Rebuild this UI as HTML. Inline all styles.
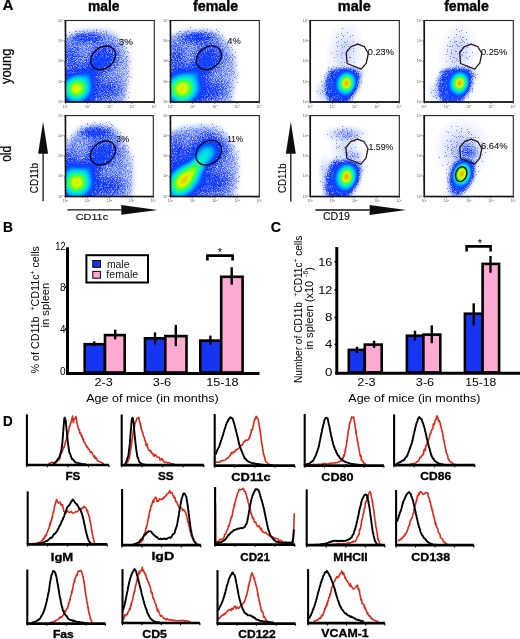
<!DOCTYPE html>
<html><head><meta charset="utf-8"><style>
html,body{margin:0;padding:0;background:#fff;}
svg{display:block;will-change:transform;}
text{font-family:"Liberation Sans", sans-serif;}
</style></head><body>
<svg width="520" height="639" viewBox="0 0 520 639">
<defs>
<radialGradient id="rg"><stop offset="0" stop-color="#fff" stop-opacity="1"/><stop offset=".2" stop-color="#fff" stop-opacity=".88"/><stop offset=".4" stop-color="#fff" stop-opacity=".61"/><stop offset=".6" stop-color="#fff" stop-opacity=".32"/><stop offset=".8" stop-color="#fff" stop-opacity=".13"/><stop offset="1" stop-color="#fff" stop-opacity="0"/></radialGradient>
<filter id="f1" x="0" y="0" width="1" height="1" color-interpolation-filters="sRGB">
<feGaussianBlur in="SourceGraphic" stdDeviation="2.4" result="b0"/>
<feColorMatrix in="b0" type="matrix" values="1 0 0 0 0 0 1 0 0 0 0 0 1 0 0 0 0 0 0 1" result="b"/>
<feTurbulence type="fractalNoise" baseFrequency="1.2" numOctaves="1" seed="11" result="t"/>
<feColorMatrix in="t" type="matrix" values="2.4 0 0 0 -0.7 2.4 0 0 0 -0.7 2.4 0 0 0 -0.7 0 0 0 0 1" result="n"/>
<feComposite in="b" in2="n" operator="arithmetic" k1="1.0" k2="0.5" k3="0" k4="0" result="s0"/>
<feComponentTransfer in="s0" result="s"><feFuncR type="table" tableValues="0 .1 .2 .3 0.34 0.34 0.34 0.34 0.34 0.34 0.34"/><feFuncG type="table" tableValues="0 .1 .2 .3 0.34 0.34 0.34 0.34 0.34 0.34 0.34"/><feFuncB type="table" tableValues="0 .1 .2 .3 0.34 0.34 0.34 0.34 0.34 0.34 0.34"/></feComponentTransfer>
<feComposite in="n" in2="b" operator="arithmetic" k1="0" k2="1" k3="3.0" k4="-0.54" result="q"/>
<feComponentTransfer in="q" result="dots"><feFuncR type="discrete" tableValues="0 0.17"/><feFuncG type="discrete" tableValues="0 0.17"/><feFuncB type="discrete" tableValues="0 0.17"/><feFuncA type="linear" slope="0" intercept="1"/></feComponentTransfer>
<feComponentTransfer in="b" result="h"><feFuncR type="table" tableValues="0 0 0 .1 .38 .5 .6 .7 .8 .9 1"/><feFuncG type="table" tableValues="0 0 0 .1 .38 .5 .6 .7 .8 .9 1"/><feFuncB type="table" tableValues="0 0 0 .1 .38 .5 .6 .7 .8 .9 1"/></feComponentTransfer>
<feBlend in="s" in2="dots" mode="lighten" result="d00"/>
<feBlend in="d00" in2="h" mode="lighten" result="d0"/>
<feGaussianBlur in="d0" stdDeviation="0.6" result="d"/>
<feComponentTransfer in="d"><feFuncR type="table" tableValues="1 .72 .30 .06 0 0 0 .30 .85 1 1"/><feFuncG type="table" tableValues="1 .78 .42 .20 .40 .72 .95 1 1 .60 .15"/><feFuncB type="table" tableValues="1 1 1 1 1 1 .80 .20 0 0 0"/><feFuncA type="linear" slope="0" intercept="1"/></feComponentTransfer>
</filter>
<filter id="f2" x="0" y="0" width="1" height="1" color-interpolation-filters="sRGB">
<feGaussianBlur in="SourceGraphic" stdDeviation="2.4" result="b0"/>
<feColorMatrix in="b0" type="matrix" values="1 0 0 0 0 0 1 0 0 0 0 0 1 0 0 0 0 0 0 1" result="b"/>
<feTurbulence type="fractalNoise" baseFrequency="1.2" numOctaves="1" seed="12" result="t"/>
<feColorMatrix in="t" type="matrix" values="2.4 0 0 0 -0.7 2.4 0 0 0 -0.7 2.4 0 0 0 -0.7 0 0 0 0 1" result="n"/>
<feComposite in="b" in2="n" operator="arithmetic" k1="1.0" k2="0.5" k3="0" k4="0" result="s0"/>
<feComponentTransfer in="s0" result="s"><feFuncR type="table" tableValues="0 .1 .2 .3 0.34 0.34 0.34 0.34 0.34 0.34 0.34"/><feFuncG type="table" tableValues="0 .1 .2 .3 0.34 0.34 0.34 0.34 0.34 0.34 0.34"/><feFuncB type="table" tableValues="0 .1 .2 .3 0.34 0.34 0.34 0.34 0.34 0.34 0.34"/></feComponentTransfer>
<feComposite in="n" in2="b" operator="arithmetic" k1="0" k2="1" k3="3.0" k4="-0.54" result="q"/>
<feComponentTransfer in="q" result="dots"><feFuncR type="discrete" tableValues="0 0.17"/><feFuncG type="discrete" tableValues="0 0.17"/><feFuncB type="discrete" tableValues="0 0.17"/><feFuncA type="linear" slope="0" intercept="1"/></feComponentTransfer>
<feComponentTransfer in="b" result="h"><feFuncR type="table" tableValues="0 0 0 .1 .38 .5 .6 .7 .8 .9 1"/><feFuncG type="table" tableValues="0 0 0 .1 .38 .5 .6 .7 .8 .9 1"/><feFuncB type="table" tableValues="0 0 0 .1 .38 .5 .6 .7 .8 .9 1"/></feComponentTransfer>
<feBlend in="s" in2="dots" mode="lighten" result="d00"/>
<feBlend in="d00" in2="h" mode="lighten" result="d0"/>
<feGaussianBlur in="d0" stdDeviation="0.6" result="d"/>
<feComponentTransfer in="d"><feFuncR type="table" tableValues="1 .72 .30 .06 0 0 0 .30 .85 1 1"/><feFuncG type="table" tableValues="1 .78 .42 .20 .40 .72 .95 1 1 .60 .15"/><feFuncB type="table" tableValues="1 1 1 1 1 1 .80 .20 0 0 0"/><feFuncA type="linear" slope="0" intercept="1"/></feComponentTransfer>
</filter>
<filter id="f5" x="0" y="0" width="1" height="1" color-interpolation-filters="sRGB">
<feGaussianBlur in="SourceGraphic" stdDeviation="2.4" result="b0"/>
<feColorMatrix in="b0" type="matrix" values="1 0 0 0 0 0 1 0 0 0 0 0 1 0 0 0 0 0 0 1" result="b"/>
<feTurbulence type="fractalNoise" baseFrequency="1.2" numOctaves="1" seed="13" result="t"/>
<feColorMatrix in="t" type="matrix" values="2.4 0 0 0 -0.7 2.4 0 0 0 -0.7 2.4 0 0 0 -0.7 0 0 0 0 1" result="n"/>
<feComposite in="b" in2="n" operator="arithmetic" k1="1.0" k2="0.5" k3="0" k4="0" result="s0"/>
<feComponentTransfer in="s0" result="s"><feFuncR type="table" tableValues="0 .1 .2 .3 0.34 0.34 0.34 0.34 0.34 0.34 0.34"/><feFuncG type="table" tableValues="0 .1 .2 .3 0.34 0.34 0.34 0.34 0.34 0.34 0.34"/><feFuncB type="table" tableValues="0 .1 .2 .3 0.34 0.34 0.34 0.34 0.34 0.34 0.34"/></feComponentTransfer>
<feComposite in="n" in2="b" operator="arithmetic" k1="0" k2="1" k3="3.0" k4="-0.54" result="q"/>
<feComponentTransfer in="q" result="dots"><feFuncR type="discrete" tableValues="0 0.17"/><feFuncG type="discrete" tableValues="0 0.17"/><feFuncB type="discrete" tableValues="0 0.17"/><feFuncA type="linear" slope="0" intercept="1"/></feComponentTransfer>
<feComponentTransfer in="b" result="h"><feFuncR type="table" tableValues="0 0 0 .1 .38 .5 .6 .7 .8 .9 1"/><feFuncG type="table" tableValues="0 0 0 .1 .38 .5 .6 .7 .8 .9 1"/><feFuncB type="table" tableValues="0 0 0 .1 .38 .5 .6 .7 .8 .9 1"/></feComponentTransfer>
<feBlend in="s" in2="dots" mode="lighten" result="d00"/>
<feBlend in="d00" in2="h" mode="lighten" result="d0"/>
<feGaussianBlur in="d0" stdDeviation="0.6" result="d"/>
<feComponentTransfer in="d"><feFuncR type="table" tableValues="1 .72 .30 .06 0 0 0 .30 .85 1 1"/><feFuncG type="table" tableValues="1 .78 .42 .20 .40 .72 .95 1 1 .60 .15"/><feFuncB type="table" tableValues="1 1 1 1 1 1 .80 .20 0 0 0"/><feFuncA type="linear" slope="0" intercept="1"/></feComponentTransfer>
</filter>
<filter id="f6" x="0" y="0" width="1" height="1" color-interpolation-filters="sRGB">
<feGaussianBlur in="SourceGraphic" stdDeviation="2.4" result="b0"/>
<feColorMatrix in="b0" type="matrix" values="1 0 0 0 0 0 1 0 0 0 0 0 1 0 0 0 0 0 0 1" result="b"/>
<feTurbulence type="fractalNoise" baseFrequency="1.2" numOctaves="1" seed="14" result="t"/>
<feColorMatrix in="t" type="matrix" values="2.4 0 0 0 -0.7 2.4 0 0 0 -0.7 2.4 0 0 0 -0.7 0 0 0 0 1" result="n"/>
<feComposite in="b" in2="n" operator="arithmetic" k1="1.0" k2="0.5" k3="0" k4="0" result="s0"/>
<feComponentTransfer in="s0" result="s"><feFuncR type="table" tableValues="0 .1 .2 .3 0.34 0.34 0.34 0.34 0.34 0.34 0.34"/><feFuncG type="table" tableValues="0 .1 .2 .3 0.34 0.34 0.34 0.34 0.34 0.34 0.34"/><feFuncB type="table" tableValues="0 .1 .2 .3 0.34 0.34 0.34 0.34 0.34 0.34 0.34"/></feComponentTransfer>
<feComposite in="n" in2="b" operator="arithmetic" k1="0" k2="1" k3="3.0" k4="-0.54" result="q"/>
<feComponentTransfer in="q" result="dots"><feFuncR type="discrete" tableValues="0 0.17"/><feFuncG type="discrete" tableValues="0 0.17"/><feFuncB type="discrete" tableValues="0 0.17"/><feFuncA type="linear" slope="0" intercept="1"/></feComponentTransfer>
<feComponentTransfer in="b" result="h"><feFuncR type="table" tableValues="0 0 0 .1 .38 .5 .6 .7 .8 .9 1"/><feFuncG type="table" tableValues="0 0 0 .1 .38 .5 .6 .7 .8 .9 1"/><feFuncB type="table" tableValues="0 0 0 .1 .38 .5 .6 .7 .8 .9 1"/></feComponentTransfer>
<feBlend in="s" in2="dots" mode="lighten" result="d00"/>
<feBlend in="d00" in2="h" mode="lighten" result="d0"/>
<feGaussianBlur in="d0" stdDeviation="0.6" result="d"/>
<feComponentTransfer in="d"><feFuncR type="table" tableValues="1 .72 .30 .06 0 0 0 .30 .85 1 1"/><feFuncG type="table" tableValues="1 .78 .42 .20 .40 .72 .95 1 1 .60 .15"/><feFuncB type="table" tableValues="1 1 1 1 1 1 .80 .20 0 0 0"/><feFuncA type="linear" slope="0" intercept="1"/></feComponentTransfer>
</filter>
<filter id="f3" x="0" y="0" width="1" height="1" color-interpolation-filters="sRGB">
<feGaussianBlur in="SourceGraphic" stdDeviation="1.6" result="b0"/>
<feColorMatrix in="b0" type="matrix" values="1 0 0 0 0 0 1 0 0 0 0 0 1 0 0 0 0 0 0 1" result="b"/>
<feTurbulence type="fractalNoise" baseFrequency="1.2" numOctaves="1" seed="15" result="t"/>
<feColorMatrix in="t" type="matrix" values="2.4 0 0 0 -0.7 2.4 0 0 0 -0.7 2.4 0 0 0 -0.7 0 0 0 0 1" result="n"/>
<feComposite in="b" in2="n" operator="arithmetic" k1="1.0" k2="0.5" k3="0" k4="0" result="s0"/>
<feComponentTransfer in="s0" result="s"><feFuncR type="table" tableValues="0 .1 .2 .3 0.34 0.34 0.34 0.34 0.34 0.34 0.34"/><feFuncG type="table" tableValues="0 .1 .2 .3 0.34 0.34 0.34 0.34 0.34 0.34 0.34"/><feFuncB type="table" tableValues="0 .1 .2 .3 0.34 0.34 0.34 0.34 0.34 0.34 0.34"/></feComponentTransfer>
<feComposite in="n" in2="b" operator="arithmetic" k1="0" k2="1" k3="3.0" k4="-0.54" result="q"/>
<feComponentTransfer in="q" result="dots"><feFuncR type="discrete" tableValues="0 0.17"/><feFuncG type="discrete" tableValues="0 0.17"/><feFuncB type="discrete" tableValues="0 0.17"/><feFuncA type="linear" slope="0" intercept="1"/></feComponentTransfer>
<feComponentTransfer in="b" result="h"><feFuncR type="table" tableValues="0 0 0 .1 .38 .5 .6 .7 .8 .9 1"/><feFuncG type="table" tableValues="0 0 0 .1 .38 .5 .6 .7 .8 .9 1"/><feFuncB type="table" tableValues="0 0 0 .1 .38 .5 .6 .7 .8 .9 1"/></feComponentTransfer>
<feBlend in="s" in2="dots" mode="lighten" result="d00"/>
<feBlend in="d00" in2="h" mode="lighten" result="d0"/>
<feGaussianBlur in="d0" stdDeviation="0.6" result="d"/>
<feComponentTransfer in="d"><feFuncR type="table" tableValues="1 .72 .30 .06 0 0 0 .30 .85 1 1"/><feFuncG type="table" tableValues="1 .78 .42 .20 .40 .72 .95 1 1 .60 .15"/><feFuncB type="table" tableValues="1 1 1 1 1 1 .80 .20 0 0 0"/><feFuncA type="linear" slope="0" intercept="1"/></feComponentTransfer>
</filter>
<filter id="f4" x="0" y="0" width="1" height="1" color-interpolation-filters="sRGB">
<feGaussianBlur in="SourceGraphic" stdDeviation="1.6" result="b0"/>
<feColorMatrix in="b0" type="matrix" values="1 0 0 0 0 0 1 0 0 0 0 0 1 0 0 0 0 0 0 1" result="b"/>
<feTurbulence type="fractalNoise" baseFrequency="1.2" numOctaves="1" seed="16" result="t"/>
<feColorMatrix in="t" type="matrix" values="2.4 0 0 0 -0.7 2.4 0 0 0 -0.7 2.4 0 0 0 -0.7 0 0 0 0 1" result="n"/>
<feComposite in="b" in2="n" operator="arithmetic" k1="1.0" k2="0.5" k3="0" k4="0" result="s0"/>
<feComponentTransfer in="s0" result="s"><feFuncR type="table" tableValues="0 .1 .2 .3 0.34 0.34 0.34 0.34 0.34 0.34 0.34"/><feFuncG type="table" tableValues="0 .1 .2 .3 0.34 0.34 0.34 0.34 0.34 0.34 0.34"/><feFuncB type="table" tableValues="0 .1 .2 .3 0.34 0.34 0.34 0.34 0.34 0.34 0.34"/></feComponentTransfer>
<feComposite in="n" in2="b" operator="arithmetic" k1="0" k2="1" k3="3.0" k4="-0.54" result="q"/>
<feComponentTransfer in="q" result="dots"><feFuncR type="discrete" tableValues="0 0.17"/><feFuncG type="discrete" tableValues="0 0.17"/><feFuncB type="discrete" tableValues="0 0.17"/><feFuncA type="linear" slope="0" intercept="1"/></feComponentTransfer>
<feComponentTransfer in="b" result="h"><feFuncR type="table" tableValues="0 0 0 .1 .38 .5 .6 .7 .8 .9 1"/><feFuncG type="table" tableValues="0 0 0 .1 .38 .5 .6 .7 .8 .9 1"/><feFuncB type="table" tableValues="0 0 0 .1 .38 .5 .6 .7 .8 .9 1"/></feComponentTransfer>
<feBlend in="s" in2="dots" mode="lighten" result="d00"/>
<feBlend in="d00" in2="h" mode="lighten" result="d0"/>
<feGaussianBlur in="d0" stdDeviation="0.6" result="d"/>
<feComponentTransfer in="d"><feFuncR type="table" tableValues="1 .72 .30 .06 0 0 0 .30 .85 1 1"/><feFuncG type="table" tableValues="1 .78 .42 .20 .40 .72 .95 1 1 .60 .15"/><feFuncB type="table" tableValues="1 1 1 1 1 1 .80 .20 0 0 0"/><feFuncA type="linear" slope="0" intercept="1"/></feComponentTransfer>
</filter>
<filter id="f7" x="0" y="0" width="1" height="1" color-interpolation-filters="sRGB">
<feGaussianBlur in="SourceGraphic" stdDeviation="1.6" result="b0"/>
<feColorMatrix in="b0" type="matrix" values="1 0 0 0 0 0 1 0 0 0 0 0 1 0 0 0 0 0 0 1" result="b"/>
<feTurbulence type="fractalNoise" baseFrequency="1.2" numOctaves="1" seed="17" result="t"/>
<feColorMatrix in="t" type="matrix" values="2.4 0 0 0 -0.7 2.4 0 0 0 -0.7 2.4 0 0 0 -0.7 0 0 0 0 1" result="n"/>
<feComposite in="b" in2="n" operator="arithmetic" k1="1.0" k2="0.5" k3="0" k4="0" result="s0"/>
<feComponentTransfer in="s0" result="s"><feFuncR type="table" tableValues="0 .1 .2 .3 0.34 0.34 0.34 0.34 0.34 0.34 0.34"/><feFuncG type="table" tableValues="0 .1 .2 .3 0.34 0.34 0.34 0.34 0.34 0.34 0.34"/><feFuncB type="table" tableValues="0 .1 .2 .3 0.34 0.34 0.34 0.34 0.34 0.34 0.34"/></feComponentTransfer>
<feComposite in="n" in2="b" operator="arithmetic" k1="0" k2="1" k3="3.0" k4="-0.54" result="q"/>
<feComponentTransfer in="q" result="dots"><feFuncR type="discrete" tableValues="0 0.17"/><feFuncG type="discrete" tableValues="0 0.17"/><feFuncB type="discrete" tableValues="0 0.17"/><feFuncA type="linear" slope="0" intercept="1"/></feComponentTransfer>
<feComponentTransfer in="b" result="h"><feFuncR type="table" tableValues="0 0 0 .1 .38 .5 .6 .7 .8 .9 1"/><feFuncG type="table" tableValues="0 0 0 .1 .38 .5 .6 .7 .8 .9 1"/><feFuncB type="table" tableValues="0 0 0 .1 .38 .5 .6 .7 .8 .9 1"/></feComponentTransfer>
<feBlend in="s" in2="dots" mode="lighten" result="d00"/>
<feBlend in="d00" in2="h" mode="lighten" result="d0"/>
<feGaussianBlur in="d0" stdDeviation="0.6" result="d"/>
<feComponentTransfer in="d"><feFuncR type="table" tableValues="1 .72 .30 .06 0 0 0 .30 .85 1 1"/><feFuncG type="table" tableValues="1 .78 .42 .20 .40 .72 .95 1 1 .60 .15"/><feFuncB type="table" tableValues="1 1 1 1 1 1 .80 .20 0 0 0"/><feFuncA type="linear" slope="0" intercept="1"/></feComponentTransfer>
</filter>
<filter id="f8" x="0" y="0" width="1" height="1" color-interpolation-filters="sRGB">
<feGaussianBlur in="SourceGraphic" stdDeviation="1.6" result="b0"/>
<feColorMatrix in="b0" type="matrix" values="1 0 0 0 0 0 1 0 0 0 0 0 1 0 0 0 0 0 0 1" result="b"/>
<feTurbulence type="fractalNoise" baseFrequency="1.2" numOctaves="1" seed="18" result="t"/>
<feColorMatrix in="t" type="matrix" values="2.4 0 0 0 -0.7 2.4 0 0 0 -0.7 2.4 0 0 0 -0.7 0 0 0 0 1" result="n"/>
<feComposite in="b" in2="n" operator="arithmetic" k1="1.0" k2="0.5" k3="0" k4="0" result="s0"/>
<feComponentTransfer in="s0" result="s"><feFuncR type="table" tableValues="0 .1 .2 .3 0.34 0.34 0.34 0.34 0.34 0.34 0.34"/><feFuncG type="table" tableValues="0 .1 .2 .3 0.34 0.34 0.34 0.34 0.34 0.34 0.34"/><feFuncB type="table" tableValues="0 .1 .2 .3 0.34 0.34 0.34 0.34 0.34 0.34 0.34"/></feComponentTransfer>
<feComposite in="n" in2="b" operator="arithmetic" k1="0" k2="1" k3="3.0" k4="-0.54" result="q"/>
<feComponentTransfer in="q" result="dots"><feFuncR type="discrete" tableValues="0 0.17"/><feFuncG type="discrete" tableValues="0 0.17"/><feFuncB type="discrete" tableValues="0 0.17"/><feFuncA type="linear" slope="0" intercept="1"/></feComponentTransfer>
<feComponentTransfer in="b" result="h"><feFuncR type="table" tableValues="0 0 0 .1 .38 .5 .6 .7 .8 .9 1"/><feFuncG type="table" tableValues="0 0 0 .1 .38 .5 .6 .7 .8 .9 1"/><feFuncB type="table" tableValues="0 0 0 .1 .38 .5 .6 .7 .8 .9 1"/></feComponentTransfer>
<feBlend in="s" in2="dots" mode="lighten" result="d00"/>
<feBlend in="d00" in2="h" mode="lighten" result="d0"/>
<feGaussianBlur in="d0" stdDeviation="0.6" result="d"/>
<feComponentTransfer in="d"><feFuncR type="table" tableValues="1 .72 .30 .06 0 0 0 .30 .85 1 1"/><feFuncG type="table" tableValues="1 .78 .42 .20 .40 .72 .95 1 1 .60 .15"/><feFuncB type="table" tableValues="1 1 1 1 1 1 .80 .20 0 0 0"/><feFuncA type="linear" slope="0" intercept="1"/></feComponentTransfer>
</filter>
</defs>
<filter id="soft" x="0" y="0" width="1" height="1"><feGaussianBlur stdDeviation="0.42"/></filter>
<g filter="url(#soft)">
<rect width="520" height="639" fill="#fff"/>
<svg x="65.5" y="20.5" width="88.80" height="81.50" viewBox="65.5 20.5 88.80 81.50" overflow="hidden">
<g filter="url(#f1)"><rect x="63.5" y="18.5" width="92.80" height="85.50" fill="#000"/>
<polygon points="64,37 80,31 100,30 114,33 124,44 129,58 129,75 127,90 125,104 64,104" fill="rgb(31,31,31)"/>
<polygon points="64,41 80,36 100,35 109,37 116,45 121,60 121,75 119,90 117,104 64,104" fill="rgb(36,36,36)"/>
<ellipse cx="103" cy="58" rx="22" ry="19" transform="rotate(-30 103 58)" fill="url(#rg)" fill-opacity="0.22"/>
<ellipse cx="88" cy="38" rx="24" ry="7" transform="rotate(0 88 38)" fill="url(#rg)" fill-opacity="0.24"/>
<ellipse cx="90" cy="74" rx="30" ry="14" transform="rotate(-45 90 74)" fill="url(#rg)" fill-opacity="0.25"/>
<ellipse cx="105" cy="90" rx="24" ry="15" transform="rotate(0 105 90)" fill="url(#rg)" fill-opacity="0.15"/>
<ellipse cx="72" cy="58" rx="14" ry="22" transform="rotate(0 72 58)" fill="url(#rg)" fill-opacity="0.12"/>
<ellipse cx="76.5" cy="89" rx="30" ry="28" transform="rotate(0 76.5 89)" fill="url(#rg)" fill-opacity="0.2"/>
<ellipse cx="76.5" cy="89" rx="22" ry="21" transform="rotate(0 76.5 89)" fill="url(#rg)" fill-opacity="0.8"/>
</g></svg>
<rect x="65.5" y="20.5" width="88.80" height="81.50" fill="none" stroke="#222" stroke-width="1.1"/>
<line x1="65.5" y1="20.5" x2="65.5" y2="102.0" stroke="#111" stroke-width="1.5"/>
<line x1="65.5" y1="102.0" x2="154.3" y2="102.0" stroke="#111" stroke-width="1.5"/>
<path d="M65.50,102.0v1.8M65.5,102.00h-1.8M72.18,102.0v1M65.5,95.87h-1M76.09,102.0v1M65.5,92.28h-1M78.87,102.0v1M65.5,89.73h-1M81.02,102.0v1M65.5,87.76h-1M82.77,102.0v1M65.5,86.15h-1M84.26,102.0v1M65.5,84.78h-1M85.55,102.0v1M65.5,83.60h-1M86.68,102.0v1M65.5,82.56h-1M87.70,102.0v1.8M65.5,81.62h-1.8M94.38,102.0v1M65.5,75.49h-1M98.29,102.0v1M65.5,71.90h-1M101.07,102.0v1M65.5,69.36h-1M103.22,102.0v1M65.5,67.38h-1M104.97,102.0v1M65.5,65.77h-1M106.46,102.0v1M65.5,64.41h-1M107.75,102.0v1M65.5,63.22h-1M108.88,102.0v1M65.5,62.18h-1M109.90,102.0v1.8M65.5,61.25h-1.8M116.58,102.0v1M65.5,55.12h-1M120.49,102.0v1M65.5,51.53h-1M123.27,102.0v1M65.5,48.98h-1M125.42,102.0v1M65.5,47.01h-1M127.17,102.0v1M65.5,45.40h-1M128.66,102.0v1M65.5,44.03h-1M129.95,102.0v1M65.5,42.85h-1M131.08,102.0v1M65.5,41.81h-1M132.10,102.0v1.8M65.5,40.88h-1.8M138.78,102.0v1M65.5,34.74h-1M142.69,102.0v1M65.5,31.15h-1M145.47,102.0v1M65.5,28.61h-1M147.62,102.0v1M65.5,26.63h-1M149.37,102.0v1M65.5,25.02h-1M150.86,102.0v1M65.5,23.66h-1M152.15,102.0v1M65.5,22.47h-1M153.28,102.0v1M65.5,21.43h-1M154.30,102.0v1.8M65.5,20.50h-1.8" stroke="#222" stroke-width="0.6" fill="none"/>
<text x="65.50" y="107.60" font-size="3.6" fill="#555" text-anchor="middle">10<tspan font-size="2.5" dy="-1.3">0</tspan></text>
<text x="63.30" y="103.20" font-size="3.6" fill="#555" text-anchor="end">10<tspan font-size="2.5" dy="-1.3">0</tspan></text>
<text x="87.70" y="107.60" font-size="3.6" fill="#555" text-anchor="middle">10<tspan font-size="2.5" dy="-1.3">1</tspan></text>
<text x="63.30" y="82.83" font-size="3.6" fill="#555" text-anchor="end">10<tspan font-size="2.5" dy="-1.3">1</tspan></text>
<text x="109.90" y="107.60" font-size="3.6" fill="#555" text-anchor="middle">10<tspan font-size="2.5" dy="-1.3">2</tspan></text>
<text x="63.30" y="62.45" font-size="3.6" fill="#555" text-anchor="end">10<tspan font-size="2.5" dy="-1.3">2</tspan></text>
<text x="132.10" y="107.60" font-size="3.6" fill="#555" text-anchor="middle">10<tspan font-size="2.5" dy="-1.3">3</tspan></text>
<text x="63.30" y="42.08" font-size="3.6" fill="#555" text-anchor="end">10<tspan font-size="2.5" dy="-1.3">3</tspan></text>
<text x="154.30" y="107.60" font-size="3.6" fill="#555" text-anchor="middle">10<tspan font-size="2.5" dy="-1.3">4</tspan></text>
<text x="63.30" y="21.70" font-size="3.6" fill="#555" text-anchor="end">10<tspan font-size="2.5" dy="-1.3">4</tspan></text>
<svg x="170.5" y="20.5" width="88.80" height="81.50" viewBox="170.5 20.5 88.80 81.50" overflow="hidden">
<g filter="url(#f2)"><rect x="168.5" y="18.5" width="92.80" height="85.50" fill="#000"/>
<polygon points="169,37 185,31 205,30 219,33 229,44 235,58 236,75 233,90 231,104 169,104" fill="rgb(31,31,31)"/>
<polygon points="169,41 185,36 205,34 214,36 222,45 227,60 227,75 225,90 223,104 169,104" fill="rgb(36,36,36)"/>
<ellipse cx="208.5" cy="58" rx="22" ry="19" transform="rotate(-30 208.5 58)" fill="url(#rg)" fill-opacity="0.22"/>
<ellipse cx="197" cy="37.5" rx="26" ry="7.5" transform="rotate(0 197 37.5)" fill="url(#rg)" fill-opacity="0.26"/>
<ellipse cx="196" cy="74" rx="30" ry="14" transform="rotate(-45 196 74)" fill="url(#rg)" fill-opacity="0.25"/>
<ellipse cx="210" cy="90" rx="26" ry="15" transform="rotate(0 210 90)" fill="url(#rg)" fill-opacity="0.16"/>
<ellipse cx="177" cy="58" rx="14" ry="22" transform="rotate(0 177 58)" fill="url(#rg)" fill-opacity="0.12"/>
<ellipse cx="182" cy="89" rx="34" ry="30" transform="rotate(0 182 89)" fill="url(#rg)" fill-opacity="0.22"/>
<ellipse cx="182" cy="89" rx="25" ry="24" transform="rotate(0 182 89)" fill="url(#rg)" fill-opacity="0.8"/>
</g></svg>
<rect x="170.5" y="20.5" width="88.80" height="81.50" fill="none" stroke="#222" stroke-width="1.1"/>
<line x1="170.5" y1="20.5" x2="170.5" y2="102.0" stroke="#111" stroke-width="1.5"/>
<line x1="170.5" y1="102.0" x2="259.3" y2="102.0" stroke="#111" stroke-width="1.5"/>
<path d="M170.50,102.0v1.8M170.5,102.00h-1.8M177.18,102.0v1M170.5,95.87h-1M181.09,102.0v1M170.5,92.28h-1M183.87,102.0v1M170.5,89.73h-1M186.02,102.0v1M170.5,87.76h-1M187.77,102.0v1M170.5,86.15h-1M189.26,102.0v1M170.5,84.78h-1M190.55,102.0v1M170.5,83.60h-1M191.68,102.0v1M170.5,82.56h-1M192.70,102.0v1.8M170.5,81.62h-1.8M199.38,102.0v1M170.5,75.49h-1M203.29,102.0v1M170.5,71.90h-1M206.07,102.0v1M170.5,69.36h-1M208.22,102.0v1M170.5,67.38h-1M209.97,102.0v1M170.5,65.77h-1M211.46,102.0v1M170.5,64.41h-1M212.75,102.0v1M170.5,63.22h-1M213.88,102.0v1M170.5,62.18h-1M214.90,102.0v1.8M170.5,61.25h-1.8M221.58,102.0v1M170.5,55.12h-1M225.49,102.0v1M170.5,51.53h-1M228.27,102.0v1M170.5,48.98h-1M230.42,102.0v1M170.5,47.01h-1M232.17,102.0v1M170.5,45.40h-1M233.66,102.0v1M170.5,44.03h-1M234.95,102.0v1M170.5,42.85h-1M236.08,102.0v1M170.5,41.81h-1M237.10,102.0v1.8M170.5,40.88h-1.8M243.78,102.0v1M170.5,34.74h-1M247.69,102.0v1M170.5,31.15h-1M250.47,102.0v1M170.5,28.61h-1M252.62,102.0v1M170.5,26.63h-1M254.37,102.0v1M170.5,25.02h-1M255.86,102.0v1M170.5,23.66h-1M257.15,102.0v1M170.5,22.47h-1M258.28,102.0v1M170.5,21.43h-1M259.30,102.0v1.8M170.5,20.50h-1.8" stroke="#222" stroke-width="0.6" fill="none"/>
<text x="170.50" y="107.60" font-size="3.6" fill="#555" text-anchor="middle">10<tspan font-size="2.5" dy="-1.3">0</tspan></text>
<text x="168.30" y="103.20" font-size="3.6" fill="#555" text-anchor="end">10<tspan font-size="2.5" dy="-1.3">0</tspan></text>
<text x="192.70" y="107.60" font-size="3.6" fill="#555" text-anchor="middle">10<tspan font-size="2.5" dy="-1.3">1</tspan></text>
<text x="168.30" y="82.83" font-size="3.6" fill="#555" text-anchor="end">10<tspan font-size="2.5" dy="-1.3">1</tspan></text>
<text x="214.90" y="107.60" font-size="3.6" fill="#555" text-anchor="middle">10<tspan font-size="2.5" dy="-1.3">2</tspan></text>
<text x="168.30" y="62.45" font-size="3.6" fill="#555" text-anchor="end">10<tspan font-size="2.5" dy="-1.3">2</tspan></text>
<text x="237.10" y="107.60" font-size="3.6" fill="#555" text-anchor="middle">10<tspan font-size="2.5" dy="-1.3">3</tspan></text>
<text x="168.30" y="42.08" font-size="3.6" fill="#555" text-anchor="end">10<tspan font-size="2.5" dy="-1.3">3</tspan></text>
<text x="259.30" y="107.60" font-size="3.6" fill="#555" text-anchor="middle">10<tspan font-size="2.5" dy="-1.3">4</tspan></text>
<text x="168.30" y="21.70" font-size="3.6" fill="#555" text-anchor="end">10<tspan font-size="2.5" dy="-1.3">4</tspan></text>
<svg x="65.5" y="115.6" width="87.80" height="80.90" viewBox="65.5 115.6 87.80 80.90" overflow="hidden">
<g filter="url(#f5)"><rect x="63.5" y="113.6" width="91.80" height="84.90" fill="#000"/>
<polygon points="64,150 70,138 80,128 95,124 110,125 119,132 127,145 132,160 133,180 131,199 64,199" fill="rgb(31,31,31)"/>
<polygon points="64,153 72,140 82,131 97,128 109,129 115,136 121,148 125,168 125,185 123,199 64,199" fill="rgb(38,38,38)"/>
<ellipse cx="96" cy="132.5" rx="22" ry="6.5" transform="rotate(0 96 132.5)" fill="url(#rg)" fill-opacity="0.3"/>
<ellipse cx="103" cy="153" rx="22" ry="19" transform="rotate(-30 103 153)" fill="url(#rg)" fill-opacity="0.22"/>
<ellipse cx="90" cy="168" rx="30" ry="13" transform="rotate(-45 90 168)" fill="url(#rg)" fill-opacity="0.22"/>
<ellipse cx="70" cy="168" rx="10" ry="30" transform="rotate(0 70 168)" fill="url(#rg)" fill-opacity="0.14"/>
<ellipse cx="106" cy="186" rx="26" ry="15" transform="rotate(0 106 186)" fill="url(#rg)" fill-opacity="0.16"/>
<ellipse cx="75" cy="184" rx="30" ry="32" transform="rotate(0 75 184)" fill="url(#rg)" fill-opacity="0.2"/>
<ellipse cx="77" cy="183" rx="23" ry="23" transform="rotate(0 77 183)" fill="url(#rg)" fill-opacity="0.8"/>
</g></svg>
<rect x="65.5" y="115.6" width="87.80" height="80.90" fill="none" stroke="#222" stroke-width="1.1"/>
<line x1="65.5" y1="115.6" x2="65.5" y2="196.5" stroke="#111" stroke-width="1.5"/>
<line x1="65.5" y1="196.5" x2="153.3" y2="196.5" stroke="#111" stroke-width="1.5"/>
<path d="M65.50,196.5v1.8M65.5,196.50h-1.8M72.11,196.5v1M65.5,190.41h-1M75.97,196.5v1M65.5,186.85h-1M78.72,196.5v1M65.5,184.32h-1M80.84,196.5v1M65.5,182.36h-1M82.58,196.5v1M65.5,180.76h-1M84.05,196.5v1M65.5,179.41h-1M85.32,196.5v1M65.5,178.24h-1M86.45,196.5v1M65.5,177.20h-1M87.45,196.5v1.8M65.5,176.28h-1.8M94.06,196.5v1M65.5,170.19h-1M97.92,196.5v1M65.5,166.63h-1M100.67,196.5v1M65.5,164.10h-1M102.79,196.5v1M65.5,162.14h-1M104.53,196.5v1M65.5,160.54h-1M106.00,196.5v1M65.5,159.18h-1M107.27,196.5v1M65.5,158.01h-1M108.40,196.5v1M65.5,156.98h-1M109.40,196.5v1.8M65.5,156.05h-1.8M116.01,196.5v1M65.5,149.96h-1M119.87,196.5v1M65.5,146.40h-1M122.62,196.5v1M65.5,143.87h-1M124.74,196.5v1M65.5,141.91h-1M126.48,196.5v1M65.5,140.31h-1M127.95,196.5v1M65.5,138.96h-1M129.22,196.5v1M65.5,137.79h-1M130.35,196.5v1M65.5,136.75h-1M131.35,196.5v1.8M65.5,135.82h-1.8M137.96,196.5v1M65.5,129.74h-1M141.82,196.5v1M65.5,126.18h-1M144.57,196.5v1M65.5,123.65h-1M146.69,196.5v1M65.5,121.69h-1M148.43,196.5v1M65.5,120.09h-1M149.90,196.5v1M65.5,118.73h-1M151.17,196.5v1M65.5,117.56h-1M152.30,196.5v1M65.5,116.53h-1M153.30,196.5v1.8M65.5,115.60h-1.8" stroke="#222" stroke-width="0.6" fill="none"/>
<text x="65.50" y="202.10" font-size="3.6" fill="#555" text-anchor="middle">10<tspan font-size="2.5" dy="-1.3">0</tspan></text>
<text x="63.30" y="197.70" font-size="3.6" fill="#555" text-anchor="end">10<tspan font-size="2.5" dy="-1.3">0</tspan></text>
<text x="87.45" y="202.10" font-size="3.6" fill="#555" text-anchor="middle">10<tspan font-size="2.5" dy="-1.3">1</tspan></text>
<text x="63.30" y="177.47" font-size="3.6" fill="#555" text-anchor="end">10<tspan font-size="2.5" dy="-1.3">1</tspan></text>
<text x="109.40" y="202.10" font-size="3.6" fill="#555" text-anchor="middle">10<tspan font-size="2.5" dy="-1.3">2</tspan></text>
<text x="63.30" y="157.25" font-size="3.6" fill="#555" text-anchor="end">10<tspan font-size="2.5" dy="-1.3">2</tspan></text>
<text x="131.35" y="202.10" font-size="3.6" fill="#555" text-anchor="middle">10<tspan font-size="2.5" dy="-1.3">3</tspan></text>
<text x="63.30" y="137.02" font-size="3.6" fill="#555" text-anchor="end">10<tspan font-size="2.5" dy="-1.3">3</tspan></text>
<text x="153.30" y="202.10" font-size="3.6" fill="#555" text-anchor="middle">10<tspan font-size="2.5" dy="-1.3">4</tspan></text>
<text x="63.30" y="116.80" font-size="3.6" fill="#555" text-anchor="end">10<tspan font-size="2.5" dy="-1.3">4</tspan></text>
<svg x="170.5" y="115.6" width="88.80" height="80.90" viewBox="170.5 115.6 88.80 80.90" overflow="hidden">
<g filter="url(#f6)"><rect x="168.5" y="113.6" width="92.80" height="84.90" fill="#000"/>
<polygon points="169,132 185,127 205,125 219,128 230,139 237,153 238,170 236,185 234,199 169,199" fill="rgb(31,31,31)"/>
<polygon points="169,136 185,131 205,129 217,132 226,142 230,155 230,170 228,185 226,199 169,199" fill="rgb(38,38,38)"/>
<ellipse cx="208" cy="152.5" rx="26" ry="22" transform="rotate(-30 208 152.5)" fill="url(#rg)" fill-opacity="0.22"/>
<ellipse cx="206" cy="152.5" rx="21" ry="18" transform="rotate(-30 206 152.5)" fill="url(#rg)" fill-opacity="0.3"/>
<ellipse cx="196" cy="168" rx="34" ry="13" transform="rotate(-48 196 168)" fill="url(#rg)" fill-opacity="0.36"/>
<ellipse cx="191" cy="172" rx="28" ry="11" transform="rotate(-48 191 172)" fill="url(#rg)" fill-opacity="0.38"/>
<ellipse cx="212" cy="182" rx="28" ry="18" transform="rotate(0 212 182)" fill="url(#rg)" fill-opacity="0.18"/>
<ellipse cx="178" cy="152" rx="16" ry="22" transform="rotate(0 178 152)" fill="url(#rg)" fill-opacity="0.14"/>
<ellipse cx="182" cy="182" rx="34" ry="30" transform="rotate(-40 182 182)" fill="url(#rg)" fill-opacity="0.25"/>
<ellipse cx="182.3" cy="181.8" rx="29" ry="21" transform="rotate(-50 182.3 181.8)" fill="url(#rg)" fill-opacity="0.73"/>
</g></svg>
<rect x="170.5" y="115.6" width="88.80" height="80.90" fill="none" stroke="#222" stroke-width="1.1"/>
<line x1="170.5" y1="115.6" x2="170.5" y2="196.5" stroke="#111" stroke-width="1.5"/>
<line x1="170.5" y1="196.5" x2="259.3" y2="196.5" stroke="#111" stroke-width="1.5"/>
<path d="M170.50,196.5v1.8M170.5,196.50h-1.8M177.18,196.5v1M170.5,190.41h-1M181.09,196.5v1M170.5,186.85h-1M183.87,196.5v1M170.5,184.32h-1M186.02,196.5v1M170.5,182.36h-1M187.77,196.5v1M170.5,180.76h-1M189.26,196.5v1M170.5,179.41h-1M190.55,196.5v1M170.5,178.24h-1M191.68,196.5v1M170.5,177.20h-1M192.70,196.5v1.8M170.5,176.28h-1.8M199.38,196.5v1M170.5,170.19h-1M203.29,196.5v1M170.5,166.63h-1M206.07,196.5v1M170.5,164.10h-1M208.22,196.5v1M170.5,162.14h-1M209.97,196.5v1M170.5,160.54h-1M211.46,196.5v1M170.5,159.18h-1M212.75,196.5v1M170.5,158.01h-1M213.88,196.5v1M170.5,156.98h-1M214.90,196.5v1.8M170.5,156.05h-1.8M221.58,196.5v1M170.5,149.96h-1M225.49,196.5v1M170.5,146.40h-1M228.27,196.5v1M170.5,143.87h-1M230.42,196.5v1M170.5,141.91h-1M232.17,196.5v1M170.5,140.31h-1M233.66,196.5v1M170.5,138.96h-1M234.95,196.5v1M170.5,137.79h-1M236.08,196.5v1M170.5,136.75h-1M237.10,196.5v1.8M170.5,135.82h-1.8M243.78,196.5v1M170.5,129.74h-1M247.69,196.5v1M170.5,126.18h-1M250.47,196.5v1M170.5,123.65h-1M252.62,196.5v1M170.5,121.69h-1M254.37,196.5v1M170.5,120.09h-1M255.86,196.5v1M170.5,118.73h-1M257.15,196.5v1M170.5,117.56h-1M258.28,196.5v1M170.5,116.53h-1M259.30,196.5v1.8M170.5,115.60h-1.8" stroke="#222" stroke-width="0.6" fill="none"/>
<text x="170.50" y="202.10" font-size="3.6" fill="#555" text-anchor="middle">10<tspan font-size="2.5" dy="-1.3">0</tspan></text>
<text x="168.30" y="197.70" font-size="3.6" fill="#555" text-anchor="end">10<tspan font-size="2.5" dy="-1.3">0</tspan></text>
<text x="192.70" y="202.10" font-size="3.6" fill="#555" text-anchor="middle">10<tspan font-size="2.5" dy="-1.3">1</tspan></text>
<text x="168.30" y="177.47" font-size="3.6" fill="#555" text-anchor="end">10<tspan font-size="2.5" dy="-1.3">1</tspan></text>
<text x="214.90" y="202.10" font-size="3.6" fill="#555" text-anchor="middle">10<tspan font-size="2.5" dy="-1.3">2</tspan></text>
<text x="168.30" y="157.25" font-size="3.6" fill="#555" text-anchor="end">10<tspan font-size="2.5" dy="-1.3">2</tspan></text>
<text x="237.10" y="202.10" font-size="3.6" fill="#555" text-anchor="middle">10<tspan font-size="2.5" dy="-1.3">3</tspan></text>
<text x="168.30" y="137.02" font-size="3.6" fill="#555" text-anchor="end">10<tspan font-size="2.5" dy="-1.3">3</tspan></text>
<text x="259.30" y="202.10" font-size="3.6" fill="#555" text-anchor="middle">10<tspan font-size="2.5" dy="-1.3">4</tspan></text>
<text x="168.30" y="116.80" font-size="3.6" fill="#555" text-anchor="end">10<tspan font-size="2.5" dy="-1.3">4</tspan></text>
<svg x="310.3" y="20.5" width="89.00" height="81.50" viewBox="310.3 20.5 89.00 81.50" overflow="hidden">
<g filter="url(#f3)"><rect x="308.3" y="18.5" width="93.00" height="85.50" fill="#000"/>
<ellipse cx="345" cy="52" rx="20" ry="34" transform="rotate(8 345 52)" fill="url(#rg)" fill-opacity="0.08"/>
<ellipse cx="322" cy="92" rx="8" ry="14" transform="rotate(0 322 92)" fill="url(#rg)" fill-opacity="0.08"/>
<polygon points="328.14,68.87 344.61,65.99 359.25,67.72 363.52,73.47 359.86,87.27 353.15,98.77 347.05,105.67 328.75,105.67 323.26,97.62 322.04,88.42 323.87,78.07" fill="rgb(23,23,23)"/>
<polygon points="330.5,71 344,68.5 356,70 359.5,75 356.5,87 351,97 346,103 331,103 326.5,96 325.5,88 327,79" fill="rgb(69,69,69)"/>
<ellipse cx="342" cy="86" rx="20" ry="22" transform="rotate(0 342 86)" fill="url(#rg)" fill-opacity="0.12"/>
<ellipse cx="346.6" cy="83.2" rx="13" ry="16" transform="rotate(12 346.6 83.2)" fill="url(#rg)" fill-opacity="0.89"/>
</g></svg>
<rect x="310.3" y="20.5" width="89.00" height="81.50" fill="none" stroke="#222" stroke-width="1.1"/>
<line x1="310.3" y1="20.5" x2="310.3" y2="102.0" stroke="#111" stroke-width="1.5"/>
<line x1="310.3" y1="102.0" x2="399.3" y2="102.0" stroke="#111" stroke-width="1.5"/>
<path d="M310.30,102.0v1.8M310.3,102.00h-1.8M317.00,102.0v1M310.3,95.87h-1M320.92,102.0v1M310.3,92.28h-1M323.70,102.0v1M310.3,89.73h-1M325.85,102.0v1M310.3,87.76h-1M327.61,102.0v1M310.3,86.15h-1M329.10,102.0v1M310.3,84.78h-1M330.39,102.0v1M310.3,83.60h-1M331.53,102.0v1M310.3,82.56h-1M332.55,102.0v1.8M310.3,81.62h-1.8M339.25,102.0v1M310.3,75.49h-1M343.17,102.0v1M310.3,71.90h-1M345.95,102.0v1M310.3,69.36h-1M348.10,102.0v1M310.3,67.38h-1M349.86,102.0v1M310.3,65.77h-1M351.35,102.0v1M310.3,64.41h-1M352.64,102.0v1M310.3,63.22h-1M353.78,102.0v1M310.3,62.18h-1M354.80,102.0v1.8M310.3,61.25h-1.8M361.50,102.0v1M310.3,55.12h-1M365.42,102.0v1M310.3,51.53h-1M368.20,102.0v1M310.3,48.98h-1M370.35,102.0v1M310.3,47.01h-1M372.11,102.0v1M310.3,45.40h-1M373.60,102.0v1M310.3,44.03h-1M374.89,102.0v1M310.3,42.85h-1M376.03,102.0v1M310.3,41.81h-1M377.05,102.0v1.8M310.3,40.88h-1.8M383.75,102.0v1M310.3,34.74h-1M387.67,102.0v1M310.3,31.15h-1M390.45,102.0v1M310.3,28.61h-1M392.60,102.0v1M310.3,26.63h-1M394.36,102.0v1M310.3,25.02h-1M395.85,102.0v1M310.3,23.66h-1M397.14,102.0v1M310.3,22.47h-1M398.28,102.0v1M310.3,21.43h-1M399.30,102.0v1.8M310.3,20.50h-1.8" stroke="#222" stroke-width="0.6" fill="none"/>
<text x="310.30" y="107.60" font-size="3.6" fill="#555" text-anchor="middle">10<tspan font-size="2.5" dy="-1.3">0</tspan></text>
<text x="308.10" y="103.20" font-size="3.6" fill="#555" text-anchor="end">10<tspan font-size="2.5" dy="-1.3">0</tspan></text>
<text x="332.55" y="107.60" font-size="3.6" fill="#555" text-anchor="middle">10<tspan font-size="2.5" dy="-1.3">1</tspan></text>
<text x="308.10" y="82.83" font-size="3.6" fill="#555" text-anchor="end">10<tspan font-size="2.5" dy="-1.3">1</tspan></text>
<text x="354.80" y="107.60" font-size="3.6" fill="#555" text-anchor="middle">10<tspan font-size="2.5" dy="-1.3">2</tspan></text>
<text x="308.10" y="62.45" font-size="3.6" fill="#555" text-anchor="end">10<tspan font-size="2.5" dy="-1.3">2</tspan></text>
<text x="377.05" y="107.60" font-size="3.6" fill="#555" text-anchor="middle">10<tspan font-size="2.5" dy="-1.3">3</tspan></text>
<text x="308.10" y="42.08" font-size="3.6" fill="#555" text-anchor="end">10<tspan font-size="2.5" dy="-1.3">3</tspan></text>
<text x="399.30" y="107.60" font-size="3.6" fill="#555" text-anchor="middle">10<tspan font-size="2.5" dy="-1.3">4</tspan></text>
<text x="308.10" y="21.70" font-size="3.6" fill="#555" text-anchor="end">10<tspan font-size="2.5" dy="-1.3">4</tspan></text>
<svg x="424.3" y="20.5" width="89.00" height="81.50" viewBox="424.3 20.5 89.00 81.50" overflow="hidden">
<g filter="url(#f4)"><rect x="422.3" y="18.5" width="93.00" height="85.50" fill="#000"/>
<ellipse cx="458" cy="52" rx="20" ry="34" transform="rotate(8 458 52)" fill="url(#rg)" fill-opacity="0.08"/>
<ellipse cx="435" cy="92" rx="8" ry="14" transform="rotate(0 435 92)" fill="url(#rg)" fill-opacity="0.08"/>
<polygon points="441.14,68.87 457.61,65.99 472.25,67.72 476.52,73.47 472.86,87.27 466.15,98.77 460.05,105.67 441.75,105.67 436.26,97.62 435.04,88.42 436.87,78.07" fill="rgb(23,23,23)"/>
<polygon points="443.5,71 457,68.5 469,70 472.5,75 469.5,87 464,97 459,103 444,103 439.5,96 438.5,88 440,79" fill="rgb(69,69,69)"/>
<ellipse cx="455" cy="86" rx="20" ry="22" transform="rotate(0 455 86)" fill="url(#rg)" fill-opacity="0.12"/>
<ellipse cx="459.7" cy="83.0" rx="13" ry="16" transform="rotate(12 459.7 83.0)" fill="url(#rg)" fill-opacity="0.89"/>
</g></svg>
<rect x="424.3" y="20.5" width="89.00" height="81.50" fill="none" stroke="#222" stroke-width="1.1"/>
<line x1="424.3" y1="20.5" x2="424.3" y2="102.0" stroke="#111" stroke-width="1.5"/>
<line x1="424.3" y1="102.0" x2="513.3" y2="102.0" stroke="#111" stroke-width="1.5"/>
<path d="M424.30,102.0v1.8M424.3,102.00h-1.8M431.00,102.0v1M424.3,95.87h-1M434.92,102.0v1M424.3,92.28h-1M437.70,102.0v1M424.3,89.73h-1M439.85,102.0v1M424.3,87.76h-1M441.61,102.0v1M424.3,86.15h-1M443.10,102.0v1M424.3,84.78h-1M444.39,102.0v1M424.3,83.60h-1M445.53,102.0v1M424.3,82.56h-1M446.55,102.0v1.8M424.3,81.62h-1.8M453.25,102.0v1M424.3,75.49h-1M457.17,102.0v1M424.3,71.90h-1M459.95,102.0v1M424.3,69.36h-1M462.10,102.0v1M424.3,67.38h-1M463.86,102.0v1M424.3,65.77h-1M465.35,102.0v1M424.3,64.41h-1M466.64,102.0v1M424.3,63.22h-1M467.78,102.0v1M424.3,62.18h-1M468.80,102.0v1.8M424.3,61.25h-1.8M475.50,102.0v1M424.3,55.12h-1M479.42,102.0v1M424.3,51.53h-1M482.20,102.0v1M424.3,48.98h-1M484.35,102.0v1M424.3,47.01h-1M486.11,102.0v1M424.3,45.40h-1M487.60,102.0v1M424.3,44.03h-1M488.89,102.0v1M424.3,42.85h-1M490.03,102.0v1M424.3,41.81h-1M491.05,102.0v1.8M424.3,40.88h-1.8M497.75,102.0v1M424.3,34.74h-1M501.67,102.0v1M424.3,31.15h-1M504.45,102.0v1M424.3,28.61h-1M506.60,102.0v1M424.3,26.63h-1M508.36,102.0v1M424.3,25.02h-1M509.85,102.0v1M424.3,23.66h-1M511.14,102.0v1M424.3,22.47h-1M512.28,102.0v1M424.3,21.43h-1M513.30,102.0v1.8M424.3,20.50h-1.8" stroke="#222" stroke-width="0.6" fill="none"/>
<text x="424.30" y="107.60" font-size="3.6" fill="#555" text-anchor="middle">10<tspan font-size="2.5" dy="-1.3">0</tspan></text>
<text x="422.10" y="103.20" font-size="3.6" fill="#555" text-anchor="end">10<tspan font-size="2.5" dy="-1.3">0</tspan></text>
<text x="446.55" y="107.60" font-size="3.6" fill="#555" text-anchor="middle">10<tspan font-size="2.5" dy="-1.3">1</tspan></text>
<text x="422.10" y="82.83" font-size="3.6" fill="#555" text-anchor="end">10<tspan font-size="2.5" dy="-1.3">1</tspan></text>
<text x="468.80" y="107.60" font-size="3.6" fill="#555" text-anchor="middle">10<tspan font-size="2.5" dy="-1.3">2</tspan></text>
<text x="422.10" y="62.45" font-size="3.6" fill="#555" text-anchor="end">10<tspan font-size="2.5" dy="-1.3">2</tspan></text>
<text x="491.05" y="107.60" font-size="3.6" fill="#555" text-anchor="middle">10<tspan font-size="2.5" dy="-1.3">3</tspan></text>
<text x="422.10" y="42.08" font-size="3.6" fill="#555" text-anchor="end">10<tspan font-size="2.5" dy="-1.3">3</tspan></text>
<text x="513.30" y="107.60" font-size="3.6" fill="#555" text-anchor="middle">10<tspan font-size="2.5" dy="-1.3">4</tspan></text>
<text x="422.10" y="21.70" font-size="3.6" fill="#555" text-anchor="end">10<tspan font-size="2.5" dy="-1.3">4</tspan></text>
<svg x="310.3" y="115.6" width="89.00" height="80.90" viewBox="310.3 115.6 89.00 80.90" overflow="hidden">
<g filter="url(#f7)"><rect x="308.3" y="113.6" width="93.00" height="84.90" fill="#000"/>
<ellipse cx="346" cy="134" rx="24" ry="9" transform="rotate(0 346 134)" fill="url(#rg)" fill-opacity="0.15"/>
<ellipse cx="346" cy="150" rx="18" ry="24" transform="rotate(8 346 150)" fill="url(#rg)" fill-opacity="0.07"/>
<ellipse cx="355" cy="157" rx="10" ry="8" transform="rotate(0 355 157)" fill="url(#rg)" fill-opacity="0.12"/>
<ellipse cx="325" cy="172" rx="8" ry="20" transform="rotate(0 325 172)" fill="url(#rg)" fill-opacity="0.08"/>
<polygon points="333.35,158.45 347.99,159.03 362.02,162.47 363.85,167.65 360.19,181.45 352.87,194.1 345.55,201.0 327.25,201.0 322.37,191.8 323.59,176.85 328.47,164.2" fill="rgb(23,23,23)"/>
<polygon points="335,161 347,161.5 358.5,164.5 360,169 357,181 351,192 345,198 330,198 326,190 327,177 331,166" fill="rgb(69,69,69)"/>
<ellipse cx="342" cy="181" rx="22" ry="25" transform="rotate(0 342 181)" fill="url(#rg)" fill-opacity="0.12"/>
<ellipse cx="346.7" cy="176.7" rx="14" ry="18" transform="rotate(12 346.7 176.7)" fill="url(#rg)" fill-opacity="0.89"/>
</g></svg>
<rect x="310.3" y="115.6" width="89.00" height="80.90" fill="none" stroke="#222" stroke-width="1.1"/>
<line x1="310.3" y1="115.6" x2="310.3" y2="196.5" stroke="#111" stroke-width="1.5"/>
<line x1="310.3" y1="196.5" x2="399.3" y2="196.5" stroke="#111" stroke-width="1.5"/>
<path d="M310.30,196.5v1.8M310.3,196.50h-1.8M317.00,196.5v1M310.3,190.41h-1M320.92,196.5v1M310.3,186.85h-1M323.70,196.5v1M310.3,184.32h-1M325.85,196.5v1M310.3,182.36h-1M327.61,196.5v1M310.3,180.76h-1M329.10,196.5v1M310.3,179.41h-1M330.39,196.5v1M310.3,178.24h-1M331.53,196.5v1M310.3,177.20h-1M332.55,196.5v1.8M310.3,176.28h-1.8M339.25,196.5v1M310.3,170.19h-1M343.17,196.5v1M310.3,166.63h-1M345.95,196.5v1M310.3,164.10h-1M348.10,196.5v1M310.3,162.14h-1M349.86,196.5v1M310.3,160.54h-1M351.35,196.5v1M310.3,159.18h-1M352.64,196.5v1M310.3,158.01h-1M353.78,196.5v1M310.3,156.98h-1M354.80,196.5v1.8M310.3,156.05h-1.8M361.50,196.5v1M310.3,149.96h-1M365.42,196.5v1M310.3,146.40h-1M368.20,196.5v1M310.3,143.87h-1M370.35,196.5v1M310.3,141.91h-1M372.11,196.5v1M310.3,140.31h-1M373.60,196.5v1M310.3,138.96h-1M374.89,196.5v1M310.3,137.79h-1M376.03,196.5v1M310.3,136.75h-1M377.05,196.5v1.8M310.3,135.82h-1.8M383.75,196.5v1M310.3,129.74h-1M387.67,196.5v1M310.3,126.18h-1M390.45,196.5v1M310.3,123.65h-1M392.60,196.5v1M310.3,121.69h-1M394.36,196.5v1M310.3,120.09h-1M395.85,196.5v1M310.3,118.73h-1M397.14,196.5v1M310.3,117.56h-1M398.28,196.5v1M310.3,116.53h-1M399.30,196.5v1.8M310.3,115.60h-1.8" stroke="#222" stroke-width="0.6" fill="none"/>
<text x="310.30" y="202.10" font-size="3.6" fill="#555" text-anchor="middle">10<tspan font-size="2.5" dy="-1.3">0</tspan></text>
<text x="308.10" y="197.70" font-size="3.6" fill="#555" text-anchor="end">10<tspan font-size="2.5" dy="-1.3">0</tspan></text>
<text x="332.55" y="202.10" font-size="3.6" fill="#555" text-anchor="middle">10<tspan font-size="2.5" dy="-1.3">1</tspan></text>
<text x="308.10" y="177.47" font-size="3.6" fill="#555" text-anchor="end">10<tspan font-size="2.5" dy="-1.3">1</tspan></text>
<text x="354.80" y="202.10" font-size="3.6" fill="#555" text-anchor="middle">10<tspan font-size="2.5" dy="-1.3">2</tspan></text>
<text x="308.10" y="157.25" font-size="3.6" fill="#555" text-anchor="end">10<tspan font-size="2.5" dy="-1.3">2</tspan></text>
<text x="377.05" y="202.10" font-size="3.6" fill="#555" text-anchor="middle">10<tspan font-size="2.5" dy="-1.3">3</tspan></text>
<text x="308.10" y="137.02" font-size="3.6" fill="#555" text-anchor="end">10<tspan font-size="2.5" dy="-1.3">3</tspan></text>
<text x="399.30" y="202.10" font-size="3.6" fill="#555" text-anchor="middle">10<tspan font-size="2.5" dy="-1.3">4</tspan></text>
<text x="308.10" y="116.80" font-size="3.6" fill="#555" text-anchor="end">10<tspan font-size="2.5" dy="-1.3">4</tspan></text>
<svg x="424.3" y="115.6" width="89.00" height="80.90" viewBox="424.3 115.6 89.00 80.90" overflow="hidden">
<g filter="url(#f8)"><rect x="422.3" y="113.6" width="93.00" height="84.90" fill="#000"/>
<ellipse cx="462" cy="150" rx="30" ry="34" transform="rotate(0 462 150)" fill="url(#rg)" fill-opacity="0.1"/>
<ellipse cx="469" cy="153" rx="15" ry="14" transform="rotate(0 469 153)" fill="url(#rg)" fill-opacity="0.16"/>
<ellipse cx="462" cy="177" rx="12" ry="20" transform="rotate(20 462 177)" fill="url(#rg)" fill-opacity="0.2"/>
<polygon points="468.18,155.07 476.11,159.68 474.28,175.78 466.96,190.72 457.2,198.78 448.66,194.18 448.05,180.38 453.54,165.43" fill="rgb(23,23,23)"/>
<polygon points="467,158 473.5,162 472,176 466,189 458,196 451,192 450.5,180 455,167" fill="rgb(56,56,56)"/>
<ellipse cx="461" cy="177" rx="16" ry="24" transform="rotate(20 461 177)" fill="url(#rg)" fill-opacity="0.15"/>
<ellipse cx="462" cy="173.8" rx="14" ry="18" transform="rotate(15 462 173.8)" fill="url(#rg)" fill-opacity="0.88"/>
</g></svg>
<rect x="424.3" y="115.6" width="89.00" height="80.90" fill="none" stroke="#222" stroke-width="1.1"/>
<line x1="424.3" y1="115.6" x2="424.3" y2="196.5" stroke="#111" stroke-width="1.5"/>
<line x1="424.3" y1="196.5" x2="513.3" y2="196.5" stroke="#111" stroke-width="1.5"/>
<path d="M424.30,196.5v1.8M424.3,196.50h-1.8M431.00,196.5v1M424.3,190.41h-1M434.92,196.5v1M424.3,186.85h-1M437.70,196.5v1M424.3,184.32h-1M439.85,196.5v1M424.3,182.36h-1M441.61,196.5v1M424.3,180.76h-1M443.10,196.5v1M424.3,179.41h-1M444.39,196.5v1M424.3,178.24h-1M445.53,196.5v1M424.3,177.20h-1M446.55,196.5v1.8M424.3,176.28h-1.8M453.25,196.5v1M424.3,170.19h-1M457.17,196.5v1M424.3,166.63h-1M459.95,196.5v1M424.3,164.10h-1M462.10,196.5v1M424.3,162.14h-1M463.86,196.5v1M424.3,160.54h-1M465.35,196.5v1M424.3,159.18h-1M466.64,196.5v1M424.3,158.01h-1M467.78,196.5v1M424.3,156.98h-1M468.80,196.5v1.8M424.3,156.05h-1.8M475.50,196.5v1M424.3,149.96h-1M479.42,196.5v1M424.3,146.40h-1M482.20,196.5v1M424.3,143.87h-1M484.35,196.5v1M424.3,141.91h-1M486.11,196.5v1M424.3,140.31h-1M487.60,196.5v1M424.3,138.96h-1M488.89,196.5v1M424.3,137.79h-1M490.03,196.5v1M424.3,136.75h-1M491.05,196.5v1.8M424.3,135.82h-1.8M497.75,196.5v1M424.3,129.74h-1M501.67,196.5v1M424.3,126.18h-1M504.45,196.5v1M424.3,123.65h-1M506.60,196.5v1M424.3,121.69h-1M508.36,196.5v1M424.3,120.09h-1M509.85,196.5v1M424.3,118.73h-1M511.14,196.5v1M424.3,117.56h-1M512.28,196.5v1M424.3,116.53h-1M513.30,196.5v1.8M424.3,115.60h-1.8" stroke="#222" stroke-width="0.6" fill="none"/>
<text x="424.30" y="202.10" font-size="3.6" fill="#555" text-anchor="middle">10<tspan font-size="2.5" dy="-1.3">0</tspan></text>
<text x="422.10" y="197.70" font-size="3.6" fill="#555" text-anchor="end">10<tspan font-size="2.5" dy="-1.3">0</tspan></text>
<text x="446.55" y="202.10" font-size="3.6" fill="#555" text-anchor="middle">10<tspan font-size="2.5" dy="-1.3">1</tspan></text>
<text x="422.10" y="177.47" font-size="3.6" fill="#555" text-anchor="end">10<tspan font-size="2.5" dy="-1.3">1</tspan></text>
<text x="468.80" y="202.10" font-size="3.6" fill="#555" text-anchor="middle">10<tspan font-size="2.5" dy="-1.3">2</tspan></text>
<text x="422.10" y="157.25" font-size="3.6" fill="#555" text-anchor="end">10<tspan font-size="2.5" dy="-1.3">2</tspan></text>
<text x="491.05" y="202.10" font-size="3.6" fill="#555" text-anchor="middle">10<tspan font-size="2.5" dy="-1.3">3</tspan></text>
<text x="422.10" y="137.02" font-size="3.6" fill="#555" text-anchor="end">10<tspan font-size="2.5" dy="-1.3">3</tspan></text>
<text x="513.30" y="202.10" font-size="3.6" fill="#555" text-anchor="middle">10<tspan font-size="2.5" dy="-1.3">4</tspan></text>
<text x="422.10" y="116.80" font-size="3.6" fill="#555" text-anchor="end">10<tspan font-size="2.5" dy="-1.3">4</tspan></text>
<ellipse cx="103.1" cy="57.8" rx="13.6" ry="10.5" transform="rotate(-40 103.1 57.8)" fill="none" stroke="#0c0c24" stroke-width="1.45"/>
<ellipse cx="208.9" cy="57.8" rx="13.6" ry="10.6" transform="rotate(-40 208.9 57.8)" fill="none" stroke="#0c0c24" stroke-width="1.45"/>
<ellipse cx="102.9" cy="153.0" rx="13.6" ry="10.6" transform="rotate(-40 102.9 153.0)" fill="none" stroke="#0c0c24" stroke-width="1.45"/>
<ellipse cx="208.7" cy="152.7" rx="14.0" ry="11.0" transform="rotate(-40 208.7 152.7)" fill="none" stroke="#0c0c24" stroke-width="1.45"/>
<polygon points="346.2,52.5 351,46.7 357.7,44.2 364.4,46.7 368.3,53.5 366.3,63.1 361.2,69.2 347.1,63.5" fill="none" stroke="#2a1518" stroke-width="1.3" stroke-linejoin="round"/>
<polygon points="459.7,52.5 464.5,46.7 471.2,44.2 477.9,46.7 481.8,53.5 479.8,63.1 474.7,69.2 460.6,63.5" fill="none" stroke="#2a1518" stroke-width="1.3" stroke-linejoin="round"/>
<polygon points="345.9,147.5 350.7,141.7 357.4,139.2 364.09999999999997,141.7 368.0,148.5 366.0,158.1 360.9,164.2 346.8,158.5" fill="none" stroke="#2a1518" stroke-width="1.3" stroke-linejoin="round"/>
<polygon points="459.7,147.5 464.5,141.7 471.2,139.2 477.9,141.7 481.8,148.5 479.8,158.1 474.7,164.2 460.6,158.5" fill="none" stroke="#2a1518" stroke-width="1.3" stroke-linejoin="round"/>
<ellipse cx="461.2" cy="174.2" rx="5.5" ry="7.6" transform="rotate(18 461.2 174.2)" fill="none" stroke="#0c0c24" stroke-width="1.45"/>
<text x="118.8" y="44.6" font-size="9" font-weight="normal" text-anchor="start" fill="#111" textLength="14.2" lengthAdjust="spacingAndGlyphs" stroke="#111" stroke-width="0.1">3%</text>
<text x="227.3" y="43.7" font-size="9.2" font-weight="normal" text-anchor="start" fill="#111" textLength="13.5" lengthAdjust="spacingAndGlyphs" stroke="#111" stroke-width="0.1">4%</text>
<text x="116.1" y="142.3" font-size="9" font-weight="normal" text-anchor="start" fill="#111" textLength="13.1" lengthAdjust="spacingAndGlyphs" stroke="#111" stroke-width="0.1">3%</text>
<text x="227.3" y="142.3" font-size="9" font-weight="normal" text-anchor="start" fill="#111" textLength="15.8" lengthAdjust="spacingAndGlyphs" stroke="#111" stroke-width="0.1">11%</text>
<text x="367.8" y="54.7" font-size="9" font-weight="normal" text-anchor="start" fill="#111" textLength="26.1" lengthAdjust="spacingAndGlyphs" stroke="#111" stroke-width="0.08">0.23%</text>
<text x="480.9" y="54.7" font-size="9" font-weight="normal" text-anchor="start" fill="#111" textLength="26.4" lengthAdjust="spacingAndGlyphs" stroke="#111" stroke-width="0.08">0.25%</text>
<text x="368.4" y="149.8" font-size="9" font-weight="normal" text-anchor="start" fill="#111" textLength="25.0" lengthAdjust="spacingAndGlyphs" stroke="#111" stroke-width="0.08">1.59%</text>
<text x="480.9" y="149.4" font-size="9" font-weight="normal" text-anchor="start" fill="#111" textLength="26.8" lengthAdjust="spacingAndGlyphs" stroke="#111" stroke-width="0.08">6.64%</text>
<text x="447.7" y="176.2" font-size="3.2" font-weight="normal" text-anchor="start" fill="#778" textLength="6" lengthAdjust="spacingAndGlyphs">MHI</text>
<text x="2.6" y="10.4" font-size="14.5" font-weight="bold" text-anchor="start" fill="#000" textLength="11.0" lengthAdjust="spacingAndGlyphs" stroke="#000" stroke-width="0.2">A</text>
<text x="88.0" y="10.6" font-size="13.8" font-weight="bold" text-anchor="start" fill="#000" textLength="31.4" lengthAdjust="spacingAndGlyphs" stroke="#000" stroke-width="0.35">male</text>
<text x="193.0" y="10.6" font-size="13.8" font-weight="bold" text-anchor="start" fill="#000" textLength="45.2" lengthAdjust="spacingAndGlyphs" stroke="#000" stroke-width="0.35">female</text>
<text x="337.8" y="10.6" font-size="13.8" font-weight="bold" text-anchor="start" fill="#000" textLength="33.0" lengthAdjust="spacingAndGlyphs" stroke="#000" stroke-width="0.35">male</text>
<text x="444.2" y="10.6" font-size="13.8" font-weight="bold" text-anchor="start" fill="#000" textLength="44.6" lengthAdjust="spacingAndGlyphs" stroke="#000" stroke-width="0.35">female</text>
<text transform="translate(10.5,66.3) rotate(-90)" x="0" y="0" font-size="14" font-weight="normal" text-anchor="middle" fill="#000" textLength="35.3" lengthAdjust="spacingAndGlyphs" stroke="#000" stroke-width="0.25">young</text>
<text transform="translate(10.8,153.8) rotate(-90)" x="0" y="0" font-size="14.5" font-weight="normal" text-anchor="middle" fill="#000" textLength="16.0" lengthAdjust="spacingAndGlyphs" stroke="#000" stroke-width="0.25">old</text>
<text transform="translate(38.0,178.1) rotate(-90)" x="0" y="0" font-size="10.4" font-weight="normal" text-anchor="middle" fill="#000" textLength="30.3" lengthAdjust="spacingAndGlyphs" stroke="#000" stroke-width="0.1">CD11b</text>
<text transform="translate(285.5,178.2) rotate(-90)" x="0" y="0" font-size="10.4" font-weight="normal" text-anchor="middle" fill="#000" textLength="29.5" lengthAdjust="spacingAndGlyphs" stroke="#000" stroke-width="0.1">CD11b</text>
<text x="75.7" y="220.1" font-size="9.8" font-weight="normal" text-anchor="start" fill="#000" textLength="32.4" lengthAdjust="spacingAndGlyphs" stroke="#000" stroke-width="0.1">CD11c</text>
<text x="323.0" y="220.1" font-size="10" font-weight="normal" text-anchor="start" fill="#000" textLength="27.0" lengthAdjust="spacingAndGlyphs" stroke="#000" stroke-width="0.1">CD19</text>
<line x1="43.1" y1="153.7" x2="43.1" y2="201.3" stroke="#111" stroke-width="1.3"/><polygon points="43.1,121.8 38.1,153.7 48.1,153.7" fill="#111"/>
<line x1="290.8" y1="153.7" x2="290.8" y2="201.5" stroke="#111" stroke-width="1.3"/><polygon points="290.8,121.8 285.8,153.7 295.8,153.7" fill="#111"/>
<line x1="67.4" y1="209.9" x2="121.3" y2="209.9" stroke="#111" stroke-width="1.3"/><polygon points="157.7,209.9 121.3,205.1 121.3,214.70000000000002" fill="#111"/>
<line x1="315.4" y1="210.0" x2="369.6" y2="210.0" stroke="#111" stroke-width="1.3"/><polygon points="406.2,210.0 369.6,205.0 369.6,215.0" fill="#111"/>
<text x="3.0" y="231.8" font-size="14.2" font-weight="bold" text-anchor="start" fill="#000" textLength="10.0" lengthAdjust="spacingAndGlyphs" stroke="#000" stroke-width="0.2">B</text>
<text x="270.8" y="231.7" font-size="14.2" font-weight="bold" text-anchor="start" fill="#000" textLength="10.3" lengthAdjust="spacingAndGlyphs" stroke="#000" stroke-width="0.2">C</text>
<line x1="67.5" y1="247.3" x2="67.5" y2="374.8" stroke="#000" stroke-width="3"/>
<line x1="66" y1="373.6" x2="259.5" y2="373.6" stroke="#000" stroke-width="3"/>
<text x="65.6" y="249.70000000000002" font-size="11" font-weight="normal" text-anchor="end" fill="#000" textLength="10.4" lengthAdjust="spacingAndGlyphs">12</text>
<text x="65.6" y="290.9" font-size="11" font-weight="normal" text-anchor="end" fill="#000" textLength="5.6" lengthAdjust="spacingAndGlyphs">8</text>
<line x1="65" y1="287.0" x2="68" y2="287.0" stroke="#000" stroke-width="1.6"/>
<text x="65.6" y="333.0" font-size="11" font-weight="normal" text-anchor="end" fill="#000" textLength="5.6" lengthAdjust="spacingAndGlyphs">4</text>
<line x1="65" y1="329.1" x2="68" y2="329.1" stroke="#000" stroke-width="1.6"/>
<text x="65.6" y="374.5" font-size="11" font-weight="normal" text-anchor="end" fill="#000" textLength="5.6" lengthAdjust="spacingAndGlyphs">0</text>
<rect x="84.70" y="344.20" width="20.30" height="28.30" fill="#1936f2" stroke="#000" stroke-width="2.6"/>
<rect x="105.00" y="335.10" width="19.70" height="37.40" fill="#ffaad2" stroke="#000" stroke-width="2.6"/>
<rect x="145.00" y="338.30" width="20.30" height="34.20" fill="#1936f2" stroke="#000" stroke-width="2.6"/>
<rect x="165.30" y="336.10" width="21.20" height="36.40" fill="#ffaad2" stroke="#000" stroke-width="2.6"/>
<rect x="200.30" y="340.60" width="20.90" height="31.90" fill="#1936f2" stroke="#000" stroke-width="2.6"/>
<rect x="221.20" y="276.80" width="21.40" height="95.70" fill="#ffaad2" stroke="#000" stroke-width="2.6"/>
<line x1="94.2" y1="341.4" x2="94.2" y2="346.2" stroke="#000" stroke-width="2.4"/>
<line x1="115.2" y1="329.6" x2="115.2" y2="339.4" stroke="#000" stroke-width="2.4"/>
<line x1="155.0" y1="332.4" x2="155.0" y2="344.5" stroke="#000" stroke-width="2.4"/>
<line x1="175.8" y1="324.9" x2="175.8" y2="346.2" stroke="#000" stroke-width="2.4"/>
<line x1="210.4" y1="335.6" x2="210.4" y2="344.7" stroke="#000" stroke-width="2.4"/>
<line x1="231.7" y1="267.3" x2="231.7" y2="284.6" stroke="#000" stroke-width="2.4"/>
<path d="M207.4,260.6V255.6H232.6V260.6" fill="none" stroke="#000" stroke-width="2.6"/>
<text x="219.8" y="256.2" font-size="11" font-weight="normal" text-anchor="middle" fill="#000">*</text>
<rect x="86.4" y="255.2" width="61.6" height="27.3" fill="#fff" stroke="#000" stroke-width="2"/>
<rect x="92.8" y="260.5" width="7.6" height="6.8" fill="#1936f2" stroke="#000" stroke-width="1"/>
<rect x="92.8" y="271.4" width="7.6" height="6.8" fill="#ffaad2" stroke="#000" stroke-width="1"/>
<text x="106.9" y="267.6" font-size="10.6" font-weight="normal" text-anchor="start" fill="#111" textLength="22.6" lengthAdjust="spacingAndGlyphs">male</text>
<text x="106.3" y="278.4" font-size="10.6" font-weight="normal" text-anchor="start" fill="#111" textLength="31.9" lengthAdjust="spacingAndGlyphs">female</text>
<text x="103.6" y="385.9" font-size="10.8" font-weight="normal" text-anchor="middle" fill="#000" textLength="18.3" lengthAdjust="spacingAndGlyphs">2-3</text>
<text x="162.0" y="385.9" font-size="10.8" font-weight="normal" text-anchor="middle" fill="#000" textLength="18.3" lengthAdjust="spacingAndGlyphs">3-6</text>
<text x="222.4" y="385.9" font-size="10.8" font-weight="normal" text-anchor="middle" fill="#000" textLength="32.4" lengthAdjust="spacingAndGlyphs">15-18</text>
<text x="86.2" y="402.2" font-size="11.2" font-weight="normal" text-anchor="start" fill="#000" textLength="132.6" lengthAdjust="spacingAndGlyphs">Age of mice (in months)</text>
<text transform="translate(38.6,309.8) rotate(-90)" x="0" y="0" font-size="11.2" font-weight="normal" text-anchor="middle" fill="#000" textLength="127.5" lengthAdjust="spacingAndGlyphs">% of CD11b&#160;&#160;<tspan font-size="7" dy="-4">+</tspan><tspan dy="4">CD11c</tspan><tspan font-size="7" dy="-4">+</tspan><tspan dy="4"> cells</tspan></text>
<text transform="translate(49.4,305.1) rotate(-90)" x="0" y="0" font-size="11.2" font-weight="normal" text-anchor="middle" fill="#000" textLength="44.8" lengthAdjust="spacingAndGlyphs">in spleen</text>
<line x1="336.8" y1="247.0" x2="336.8" y2="374.4" stroke="#000" stroke-width="3"/>
<line x1="335.3" y1="373.2" x2="520" y2="373.2" stroke="#000" stroke-width="3"/>
<text x="332.4" y="265.59999999999997" font-size="11" font-weight="normal" text-anchor="end" fill="#000" textLength="14.2" lengthAdjust="spacingAndGlyphs">16</text>
<line x1="334.5" y1="261.7" x2="337.5" y2="261.7" stroke="#000" stroke-width="1.6"/>
<text x="332.4" y="293.9" font-size="11" font-weight="normal" text-anchor="end" fill="#000" textLength="14.2" lengthAdjust="spacingAndGlyphs">12</text>
<line x1="334.5" y1="290.0" x2="337.5" y2="290.0" stroke="#000" stroke-width="1.6"/>
<text x="332.4" y="321.4" font-size="11" font-weight="normal" text-anchor="end" fill="#000" textLength="7.4" lengthAdjust="spacingAndGlyphs">8</text>
<line x1="334.5" y1="317.5" x2="337.5" y2="317.5" stroke="#000" stroke-width="1.6"/>
<text x="332.4" y="348.29999999999995" font-size="11" font-weight="normal" text-anchor="end" fill="#000" textLength="7.4" lengthAdjust="spacingAndGlyphs">4</text>
<line x1="334.5" y1="344.4" x2="337.5" y2="344.4" stroke="#000" stroke-width="1.6"/>
<text x="332.4" y="375.5" font-size="11" font-weight="normal" text-anchor="end" fill="#000" textLength="7.4" lengthAdjust="spacingAndGlyphs">0</text>
<rect x="348.80" y="349.90" width="16.00" height="22.50" fill="#1936f2" stroke="#000" stroke-width="2.6"/>
<rect x="364.80" y="344.60" width="16.90" height="27.80" fill="#ffaad2" stroke="#000" stroke-width="2.6"/>
<rect x="406.90" y="335.70" width="16.50" height="36.70" fill="#1936f2" stroke="#000" stroke-width="2.6"/>
<rect x="423.40" y="334.60" width="16.90" height="37.80" fill="#ffaad2" stroke="#000" stroke-width="2.6"/>
<rect x="464.90" y="313.70" width="17.70" height="58.70" fill="#1936f2" stroke="#000" stroke-width="2.6"/>
<rect x="482.60" y="263.90" width="16.50" height="108.50" fill="#ffaad2" stroke="#000" stroke-width="2.6"/>
<line x1="357.0" y1="346.7" x2="357.0" y2="353.1" stroke="#000" stroke-width="2.4"/>
<line x1="374.1" y1="340.7" x2="374.1" y2="347.8" stroke="#000" stroke-width="2.4"/>
<line x1="415.0" y1="330.7" x2="415.0" y2="340.7" stroke="#000" stroke-width="2.4"/>
<line x1="431.8" y1="325.4" x2="431.8" y2="343.2" stroke="#000" stroke-width="2.4"/>
<line x1="473.7" y1="303.3" x2="473.7" y2="325.4" stroke="#000" stroke-width="2.4"/>
<line x1="490.5" y1="256.0" x2="490.5" y2="272.7" stroke="#000" stroke-width="2.4"/>
<path d="M466.6,251.6V246.4H490.6V251.6" fill="none" stroke="#000" stroke-width="2.6"/>
<text x="479.8" y="247.2" font-size="11" font-weight="normal" text-anchor="middle" fill="#000">*</text>
<text x="366.5" y="385.9" font-size="10.8" font-weight="normal" text-anchor="middle" fill="#000" textLength="18.3" lengthAdjust="spacingAndGlyphs">2-3</text>
<text x="425.0" y="385.9" font-size="10.8" font-weight="normal" text-anchor="middle" fill="#000" textLength="18.3" lengthAdjust="spacingAndGlyphs">3-6</text>
<text x="480.7" y="385.9" font-size="10.8" font-weight="normal" text-anchor="middle" fill="#000" textLength="31.0" lengthAdjust="spacingAndGlyphs">15-18</text>
<text x="348.3" y="402.3" font-size="11.2" font-weight="normal" text-anchor="start" fill="#000" textLength="132.2" lengthAdjust="spacingAndGlyphs">Age of mice (in months)</text>
<text transform="translate(301.6,309.3) rotate(-90)" x="0" y="0" font-size="11.2" font-weight="normal" text-anchor="middle" fill="#000" textLength="147.5" lengthAdjust="spacingAndGlyphs">Number of CD11b&#160;&#160;<tspan font-size="7" dy="-4">+</tspan><tspan dy="4">CD11c</tspan><tspan font-size="7" dy="-4">+</tspan><tspan dy="4"> cells</tspan></text>
<text transform="translate(313.4,308.3) rotate(-90)" x="0" y="0" font-size="11.2" font-weight="normal" text-anchor="middle" fill="#000" textLength="82.5" lengthAdjust="spacingAndGlyphs">in spleen (x10<tspan font-size="7" dy="-5">&#160;&#160;-6</tspan><tspan dy="5">)</tspan></text>
<text x="3.0" y="425.5" font-size="14.5" font-weight="bold" text-anchor="start" fill="#000" textLength="9.7" lengthAdjust="spacingAndGlyphs" stroke="#000" stroke-width="0.2">D</text>
<polyline points="48.3,463.66 49.22,463.48 50.15,462.99 51.08,462.64 52.0,462.1 52.9,462.43 53.8,462.93 54.7,462.82 55.6,463.09 56.34,462.17 57.08,461.54 57.82,460.74 58.56,458.86 59.3,459.82 59.64,458.65 59.97,457.72 60.31,455.16 60.65,454.19 60.99,453.91 61.33,453.3 61.66,452.95 62.0,451.77 62.35,451.28 62.7,449.49 63.05,449.29 63.4,448.45 63.75,446.74 64.1,447.61 64.45,445.83 64.8,445.4 65.07,443.12 65.34,442.13 65.61,441.51 65.88,440.78 66.15,440.42 66.42,439.23 66.69,437.79 66.96,436.5 67.23,435.92 67.5,436.32 67.72,433.88 67.95,433.76 68.17,432.98 68.4,430.63 68.62,430.87 68.85,430.9 69.08,427.5 69.3,427.86 69.55,427.1 69.8,425.65 70.05,425.72 70.3,424.39 70.55,422.42 70.8,423.22 71.03,422.2 71.25,421.51 71.47,420.98 71.7,419.27 72.15,418.14 72.6,416.13 72.72,418.48 72.83,418.47 72.95,419.51 73.07,419.82 73.18,420.96 73.3,422.2 73.52,422.65 73.74,419.24 73.96,418.75 74.18,419.1 74.4,419.08 75.7,417.53 75.92,416.59 76.13,417.04 76.35,420.12 76.57,420.21 76.78,420.84 77.0,423.33 77.25,424.34 77.5,424.55 77.75,425.53 78.0,426.59 78.25,428.38 78.5,428.56 78.8,429.41 79.1,430.34 79.4,429.67 79.7,432.73 80.0,433.4 80.3,434.0 80.75,433.02 81.2,434.92 81.65,436.93 82.1,435.84 82.55,437.99 83.0,439.81 83.45,438.99 83.9,442.11 84.37,442.23 84.83,442.62 85.3,443.89 85.77,445.05 86.23,445.57 86.7,447.26 87.24,446.62 87.78,447.53 88.32,449.34 88.86,449.3 89.4,449.34 89.96,451.45 90.52,452.58 91.08,451.89 91.64,451.93 92.2,453.6 92.74,454.31 93.28,454.92 93.82,456.91 94.36,455.81 94.9,458.25 95.58,457.05 96.25,458.11 96.92,459.84 97.6,460.79 98.53,461.16 99.47,461.46 100.4,461.96 101.3,462.4 102.2,462.96 103.1,463.21 104,463.7" fill="none" stroke="#dd2a1c" stroke-width="1.6" stroke-linejoin="round"/>
<polyline points="52.9,464.31 53.62,463.68 54.34,462.98 55.06,462.42 55.78,461.75 56.5,461.4 57.06,460.34 57.62,459.4 58.18,458.67 58.74,458.04 59.3,457.58 59.6,456.28 59.9,455.58 60.2,455.1 60.5,452.86 60.8,452.38 61.1,451.87 61.23,451.01 61.36,450.05 61.49,448.94 61.62,448.36 61.75,447.33 61.88,446.18 62.01,446.16 62.14,444.63 62.27,443.44 62.4,442.67 62.47,441.72 62.54,440.86 62.61,439.14 62.67,438.9 62.74,438.44 62.81,436.87 62.88,436.29 62.95,435.69 63.02,434.74 63.09,434.02 63.16,432.15 63.23,431.64 63.29,430.74 63.36,430.11 63.43,429.34 63.5,427.3 63.57,427.52 63.64,425.85 63.71,425.57 63.78,424.01 63.85,423.6 63.92,423.0 63.99,421.69 64.06,420.88 64.13,420.15 64.2,419.04 64.5,418.02 64.8,417.56 65.03,418.34 65.25,418.86 65.47,420.7 65.7,420.46 65.79,421.98 65.88,422.54 65.97,423.57 66.06,424.65 66.15,425.42 66.24,426.45 66.33,426.71 66.42,427.63 66.51,429.17 66.6,429.61 66.69,430.51 66.79,431.29 66.88,433.02 66.97,433.78 67.06,434.91 67.16,435.1 67.25,436.3 67.34,436.87 67.44,438.36 67.53,439.52 67.62,439.69 67.71,441.34 67.81,442.08 67.9,442.65 68.04,443.02 68.18,444.94 68.32,445.4 68.46,446.16 68.6,447.37 68.74,448.28 68.88,449.52 69.02,449.67 69.16,451.23 69.3,452.25 69.65,453.16 70.0,453.6 70.35,454.35 70.7,455.81 71.05,456.46 71.4,457.39 71.75,458.7 72.1,459.12 72.82,459.25 73.54,460.39 74.26,460.76 74.98,461.89 75.7,462.44 76.62,462.59 77.54,462.92 78.46,463.26 79.38,463.45 80.3,463.79 81.22,463.8 82.13,463.96 83.05,464.07 83.97,464.17 84.88,464.17 85.8,464.3" fill="none" stroke="#000" stroke-width="1.9" stroke-linejoin="round"/>
<path d="M26.9,414.4V465.0" fill="none" stroke="#000" stroke-width="2.1"/><path d="M25.9,465.0H109.0" fill="none" stroke="#000" stroke-width="2.7"/>
<path d="M26.90,465.0v2.2M47.42,465.0v2.2M67.95,465.0v2.2M88.47,465.0v2.2M109.00,465.0v2.2" stroke="#000" stroke-width="1.1" fill="none"/>
<text x="72.9" y="480.0" font-size="10.5" font-weight="bold" text-anchor="middle" fill="#000" textLength="15.0" lengthAdjust="spacingAndGlyphs" stroke="#000" stroke-width="0.3">FS</text>
<polyline points="126.2,464.57 126.63,463.3 127.06,462.47 127.49,461.15 127.91,461.61 128.34,459.46 128.77,459.35 129.2,458.36 129.35,457.55 129.51,456.19 129.66,455.88 129.82,456.12 129.97,453.88 130.12,453.31 130.28,452.74 130.43,450.91 130.58,449.18 130.74,448.78 130.89,449.07 131.05,446.1 131.2,445.95 131.33,446.21 131.47,445.1 131.6,443.57 131.73,443.22 131.87,441.79 132.0,439.84 132.13,438.6 132.27,438.35 132.4,438.57 132.53,436.51 132.67,435.31 132.8,434.46 132.93,432.94 133.07,433.06 133.2,431.32 133.4,431.56 133.6,428.61 133.8,429.72 134.0,428.08 134.2,426.19 134.4,427.28 134.6,425.62 134.8,423.25 135.0,423.35 135.2,423.32 135.48,421.86 135.77,421.88 136.05,420.96 136.33,420.0 136.62,418.84 136.9,418.7 138.3,417.59 138.62,418.44 138.94,417.54 139.26,420.77 139.58,422.08 139.9,421.88 140.12,422.65 140.34,425.36 140.57,423.48 140.79,426.05 141.01,428.42 141.23,426.8 141.46,428.92 141.68,430.71 141.9,430.11 142.17,431.52 142.43,432.68 142.7,432.22 142.97,433.73 143.23,434.92 143.5,436.22 143.77,436.47 144.03,437.25 144.3,437.54 144.59,438.89 144.87,440.68 145.16,440.95 145.44,441.09 145.73,441.95 146.01,445.44 146.3,445.15 146.74,445.65 147.19,444.1 147.63,447.38 148.07,448.15 148.51,449.92 148.96,449.85 149.4,450.35 150.07,451.46 150.73,450.28 151.4,453.17 152.07,453.31 152.73,453.21 153.4,455.39 154.25,456.27 155.1,454.38 155.95,455.45 156.8,456.69 157.65,457.12 158.5,457.2 159.3,457.29 160.1,460.13 160.9,459.84 161.7,458.76 162.5,459.26 163.3,461.54 164.1,461.56 164.9,462.35 165.7,462.33 166.5,462.22 167.53,462.83 168.55,462.43 169.57,463.08 170.6,463.49 171.6,463.74 172.6,463.68 173.6,463.93 174.6,464.1" fill="none" stroke="#dd2a1c" stroke-width="1.6" stroke-linejoin="round"/>
<polyline points="125.1,464.51 125.44,463.64 125.79,462.8 126.13,461.87 126.48,460.88 126.82,460.25 127.17,459.18 127.51,458.03 127.86,457.2 128.2,456.5 128.32,455.53 128.45,454.67 128.57,453.68 128.69,452.8 128.82,451.77 128.94,450.49 129.06,450.06 129.18,449.31 129.31,448.18 129.43,447.06 129.55,446.31 129.68,444.95 129.8,443.73 129.87,443.38 129.93,442.14 130.0,441.7 130.07,440.21 130.13,438.81 130.2,438.35 130.27,438.19 130.33,436.67 130.4,435.43 130.47,434.67 130.53,434.12 130.6,433.17 130.67,432.13 130.73,431.59 130.8,430.41 130.88,429.27 130.97,428.53 131.05,427.92 131.13,426.79 131.22,425.88 131.3,424.33 131.38,423.68 131.47,423.02 131.55,421.79 131.63,421.27 131.72,420.2 131.8,419.37 132.2,418.04 132.6,417.86 132.8,418.47 133.0,419.04 133.2,420.13 133.4,421.88 133.6,422.0 133.68,423.3 133.75,424.27 133.83,424.92 133.91,425.5 133.98,426.85 134.06,427.84 134.14,429.01 134.22,429.84 134.29,430.55 134.37,431.74 134.45,432.59 134.52,433.42 134.6,434.32 134.69,435.16 134.78,436.37 134.88,436.78 134.97,437.83 135.06,438.96 135.15,439.45 135.25,440.68 135.34,441.14 135.43,442.47 135.52,443.78 135.62,444.71 135.71,445.45 135.8,446.33 135.94,446.89 136.07,448.78 136.21,449.31 136.35,450.4 136.48,450.73 136.62,451.85 136.75,452.28 136.89,453.98 137.03,454.94 137.16,455.01 137.3,456.48 137.63,457.62 137.97,457.84 138.3,458.77 138.63,459.97 138.97,461.04 139.3,461.89 140.05,462.6 140.8,463.12 141.55,463.65 142.3,464.14 143.3,464.36 144.3,464.53 145.3,464.67 146.3,464.9" fill="none" stroke="#000" stroke-width="1.9" stroke-linejoin="round"/>
<path d="M121.7,414.5V465.1" fill="none" stroke="#000" stroke-width="2.1"/><path d="M120.7,465.1H203.9" fill="none" stroke="#000" stroke-width="2.7"/>
<path d="M121.70,465.1v2.2M142.25,465.1v2.2M162.80,465.1v2.2M183.35,465.1v2.2M203.90,465.1v2.2" stroke="#000" stroke-width="1.1" fill="none"/>
<text x="165.8" y="480.4" font-size="10.5" font-weight="bold" text-anchor="middle" fill="#000" textLength="15.6" lengthAdjust="spacingAndGlyphs" stroke="#000" stroke-width="0.3">SS</text>
<polyline points="215.5,462.73 216.45,462.28 217.4,462.01 218.35,462.17 219.3,461.97 220.25,461.97 221.2,460.69 222.2,460.46 223.2,460.79 224.2,460.32 225.2,459.89 226.0,459.33 226.8,458.09 227.6,458.47 228.4,457.49 229.2,456.43 229.88,455.38 230.57,455.14 231.25,452.61 231.93,453.3 232.62,453.44 233.3,451.67 234.1,452.27 234.9,451.55 235.7,449.73 236.5,449.89 237.3,449.16 237.97,449.08 238.63,448.53 239.3,447.37 239.97,446.09 240.63,445.96 241.3,445.35 241.98,445.27 242.67,444.25 243.35,442.81 244.03,441.65 244.72,441.7 245.4,440.74 246.4,440.0 247.4,440.28 248.4,439.53 248.73,439.05 249.07,438.43 249.4,436.79 249.73,437.91 250.07,434.99 250.4,435.13 250.7,433.52 251.0,433.39 251.3,429.9 251.6,430.25 251.9,430.13 252.2,429.52 252.5,429.95 252.72,427.54 252.94,427.36 253.17,426.07 253.39,425.31 253.61,424.08 253.83,422.68 254.06,422.28 254.28,420.19 254.5,420.99 254.9,418.44 255.3,418.49 255.7,418.99 256.1,416.33 257.0,417.31 257.9,418.97 258.08,419.02 258.26,419.29 258.43,420.99 258.61,422.14 258.79,423.13 258.97,422.92 259.14,425.71 259.32,426.55 259.5,426.21 259.62,427.33 259.75,427.74 259.87,430.05 259.99,429.39 260.12,431.36 260.24,431.42 260.36,432.19 260.48,434.19 260.61,435.58 260.73,435.5 260.85,435.93 260.98,437.98 261.1,438.26 261.24,439.47 261.38,441.32 261.52,441.97 261.66,441.67 261.8,444.71 261.94,443.94 262.08,445.47 262.22,445.33 262.36,446.73 262.5,446.39 262.64,449.98 262.78,450.6 262.92,449.61 263.06,450.33 263.2,451.18 263.42,454.18 263.64,453.86 263.87,455.05 264.09,455.77 264.31,456.81 264.53,456.98 264.76,458.72 264.98,458.52 265.2,460.45 265.8,461.42 266.4,462.21 267.0,462.67 267.6,463.26 268.6,464.03 269.6,464.5" fill="none" stroke="#dd2a1c" stroke-width="1.6" stroke-linejoin="round"/>
<polyline points="215.5,454.25 215.9,453.98 216.3,452.85 216.7,451.7 217.1,450.7 217.5,449.74 217.9,448.79 218.3,448.07 218.7,447.38 219.1,446.55 219.39,445.71 219.69,445.3 219.98,443.6 220.27,442.95 220.56,442.92 220.86,440.65 221.15,440.19 221.44,439.54 221.74,438.67 222.03,437.88 222.32,436.82 222.61,436.14 222.91,435.18 223.2,434.53 223.47,432.81 223.75,432.2 224.02,431.54 224.29,430.32 224.56,429.4 224.84,428.98 225.11,427.68 225.38,427.15 225.65,426.26 225.93,425.21 226.2,424.35 226.63,423.32 227.07,422.08 227.5,421.64 227.93,420.94 228.37,419.79 228.8,419.07 229.47,418.66 230.13,417.5 230.8,417.29 231.5,418.33 232.2,418.27 232.9,419.14 233.15,419.94 233.4,421.34 233.65,421.86 233.9,422.92 234.15,423.33 234.4,424.42 234.65,425.31 234.9,425.67 235.12,427.53 235.34,428.27 235.57,428.38 235.79,430.02 236.01,430.66 236.23,431.73 236.46,432.61 236.68,432.95 236.9,434.24 237.12,435.66 237.34,435.95 237.55,436.72 237.77,437.53 237.99,438.48 238.21,439.86 238.43,441.17 238.65,441.7 238.86,442.56 239.08,444.06 239.3,444.14 239.59,444.97 239.87,446.2 240.16,447.08 240.44,447.48 240.73,448.31 241.01,449.62 241.3,450.47 241.69,450.9 242.08,452.11 242.46,452.9 242.85,454.09 243.24,454.8 243.62,455.7 244.01,456.51 244.4,457.82 245.0,458.6 245.6,458.75 246.2,459.79 246.8,460.02 247.4,460.92 248.4,461.56 249.4,462.18 250.4,462.34 251.4,462.89 252.42,463.12 253.43,463.13 254.45,463.5 255.47,463.64 256.48,463.93 257.5,464.02 258.4,464.05 259.3,464.28 260.2,464.38 261.1,464.42 262.0,464.59 262.9,464.62 263.8,464.7 264.7,464.83 265.6,464.85 266.5,464.93 267.4,465.01 268.3,465.09 269.2,465.12 270.1,465.18 271.0,465.22 271.9,465.29 272.8,465.37 273.7,465.4" fill="none" stroke="#000" stroke-width="1.9" stroke-linejoin="round"/>
<path d="M214.7,414.0V465.6" fill="none" stroke="#000" stroke-width="2.1"/><path d="M213.7,465.6H294.9" fill="none" stroke="#000" stroke-width="2.7"/>
<path d="M214.70,465.6v2.2M234.75,465.6v2.2M254.80,465.6v2.2M274.85,465.6v2.2M294.90,465.6v2.2" stroke="#000" stroke-width="1.1" fill="none"/>
<text x="251.0" y="480.6" font-size="10.5" font-weight="bold" text-anchor="middle" fill="#000" textLength="39.3" lengthAdjust="spacingAndGlyphs" stroke="#000" stroke-width="0.3">CD11c</text>
<polyline points="307.1,464.84 308.0,465.08 308.9,464.75 309.8,464.77 310.7,464.74 311.6,464.8 312.5,464.48 313.4,464.32 314.3,464.62 315.2,464.61 316.12,464.54 317.04,464.79 317.95,464.37 318.87,464.32 319.79,464.39 320.71,464.24 321.63,464.43 322.55,463.83 323.46,463.93 324.38,463.25 325.3,464.07 326.22,463.73 327.14,463.94 328.05,464.16 328.97,463.53 329.89,463.38 330.81,463.21 331.73,463.02 332.65,462.98 333.56,463.28 334.48,463.0 335.4,462.92 336.26,462.55 337.11,462.7 337.97,462.26 338.83,461.69 339.69,461.81 340.54,461.1 341.4,460.22 341.79,461.09 342.17,459.62 342.56,457.74 342.95,458.46 343.34,457.1 343.73,454.85 344.11,456.42 344.5,454.65 344.68,454.15 344.86,452.71 345.05,451.53 345.23,449.57 345.41,450.54 345.59,448.91 345.77,447.76 345.95,447.32 346.14,446.19 346.32,445.72 346.5,444.02 346.62,443.34 346.75,440.83 346.87,441.19 346.99,441.08 347.12,440.65 347.24,438.44 347.36,437.69 347.48,438.04 347.61,435.68 347.73,435.54 347.85,435.32 347.98,433.16 348.1,433.12 348.26,430.78 348.41,430.58 348.57,429.48 348.72,428.73 348.88,428.6 349.03,428.66 349.19,425.48 349.34,424.66 349.5,424.57 349.82,422.39 350.14,422.53 350.46,421.57 350.78,419.91 351.1,419.5 351.75,416.94 352.4,417.67 353.6,416.94 353.85,418.58 354.1,419.68 354.35,420.8 354.6,422.74 354.73,423.08 354.85,423.64 354.98,425.26 355.11,426.96 355.24,426.7 355.36,427.88 355.49,429.46 355.62,429.65 355.75,429.4 355.87,433.15 356.0,433.86 356.15,431.63 356.29,434.01 356.44,435.27 356.58,436.6 356.73,437.29 356.87,437.5 357.02,437.84 357.16,439.62 357.31,441.24 357.45,440.56 357.6,441.53 357.78,443.2 357.96,442.68 358.15,444.86 358.33,445.65 358.51,447.23 358.69,447.28 358.87,448.07 359.05,449.35 359.24,450.53 359.42,450.98 359.6,452.41 359.85,453.85 360.1,455.06 360.35,456.34 360.6,455.36 360.85,456.52 361.1,455.86 361.35,460.04 361.6,458.96 362.1,460.28 362.6,461.39 363.1,461.27 363.6,462.87 364.1,463.49 364.97,463.59 365.83,464.48 366.7,464.9" fill="none" stroke="#dd2a1c" stroke-width="1.6" stroke-linejoin="round"/>
<polyline points="306.1,464.57 307.1,464.03 308.1,463.9 309.1,463.52 309.92,462.96 310.74,462.37 311.56,461.95 312.38,461.05 313.2,460.72 313.63,459.51 314.06,458.98 314.49,457.64 314.91,456.98 315.34,456.66 315.77,455.41 316.2,454.35 316.49,453.17 316.78,452.39 317.07,451.79 317.36,451.13 317.64,450.08 317.93,449.22 318.22,448.17 318.51,447.69 318.8,446.28 318.98,445.32 319.16,444.83 319.35,443.66 319.53,442.64 319.71,441.64 319.89,440.81 320.07,440.16 320.25,439.16 320.44,437.77 320.62,437.35 320.8,436.35 320.99,435.08 321.18,434.7 321.37,433.46 321.56,432.53 321.75,431.95 321.95,431.19 322.14,429.67 322.33,429.09 322.52,427.77 322.71,427.81 322.9,426.05 323.15,425.67 323.4,424.23 323.65,423.78 323.9,423.32 324.15,421.0 324.4,420.74 324.65,420.14 324.9,419.07 325.6,417.9 326.3,417.75 327.0,418.12 327.7,418.61 327.9,420.24 328.1,420.36 328.3,422.11 328.5,422.48 328.7,423.58 328.9,424.8 329.1,425.35 329.3,425.78 329.48,426.59 329.66,428.35 329.83,429.12 330.01,429.56 330.19,430.96 330.37,431.75 330.54,432.69 330.72,432.72 330.9,434.21 331.11,435.47 331.32,436.32 331.53,437.26 331.74,437.16 331.95,438.85 332.16,439.85 332.37,441.37 332.58,441.21 332.79,442.3 333.0,443.31 333.29,444.44 333.57,444.91 333.86,446.26 334.14,446.55 334.43,447.74 334.71,448.37 335.0,449.45 335.4,450.03 335.8,450.59 336.2,452.23 336.6,452.82 337.0,453.4 337.4,454.46 338.0,455.52 338.6,455.75 339.2,456.83 339.8,457.84 340.4,458.66 341.22,459.0 342.04,459.08 342.86,460.63 343.68,460.98 344.5,461.5 345.5,461.85 346.5,462.34 347.5,462.64 348.5,462.97 349.5,463.42 350.52,463.61 351.53,463.78 352.55,463.91 353.57,464.21 354.58,464.25 355.6,464.54 356.5,464.53 357.4,464.67 358.3,464.79 359.2,464.82 360.1,464.86 361.0,464.97 361.9,465.05 362.8,465.08 363.7,465.2" fill="none" stroke="#000" stroke-width="1.9" stroke-linejoin="round"/>
<path d="M304.7,414.0V465.6" fill="none" stroke="#000" stroke-width="2.1"/><path d="M303.7,465.6H383.9" fill="none" stroke="#000" stroke-width="2.7"/>
<path d="M304.70,465.6v2.2M324.50,465.6v2.2M344.30,465.6v2.2M364.10,465.6v2.2M383.90,465.6v2.2" stroke="#000" stroke-width="1.1" fill="none"/>
<text x="337.5" y="480.6" font-size="10.5" font-weight="bold" text-anchor="middle" fill="#000" textLength="32.3" lengthAdjust="spacingAndGlyphs" stroke="#000" stroke-width="0.3">CD80</text>
<polyline points="409.2,464.45 410.22,464.32 411.24,464.04 412.26,463.91 413.28,463.83 414.3,463.65 415.1,463.22 415.9,462.65 416.7,461.83 417.5,461.41 418.3,460.76 418.89,459.93 419.47,459.23 420.06,457.29 420.64,457.56 421.23,457.02 421.81,455.54 422.4,455.48 422.77,455.0 423.15,453.6 423.52,454.39 423.9,450.0 424.27,450.91 424.65,448.81 425.02,450.02 425.4,450.39 425.73,445.62 426.07,446.7 426.4,446.09 426.73,444.57 427.07,444.31 427.4,441.32 427.73,442.74 428.07,441.48 428.4,440.32 428.69,438.96 428.98,438.98 429.27,437.24 429.56,436.87 429.84,435.42 430.13,433.21 430.42,433.98 430.71,433.25 431.0,432.77 431.3,430.69 431.6,430.46 431.9,430.09 432.2,428.88 432.5,428.85 432.8,428.55 433.1,425.52 433.43,423.91 433.77,425.14 434.1,424.8 434.43,423.49 434.77,422.56 435.1,420.64 435.55,419.56 436.0,419.77 436.45,417.42 436.9,415.74 437.7,417.35 438.5,420.97 438.83,421.39 439.17,420.29 439.5,421.1 439.83,422.67 440.17,422.79 440.5,425.18 440.69,425.06 440.88,425.22 441.07,427.94 441.26,427.44 441.45,428.96 441.65,429.7 441.84,430.39 442.03,431.79 442.22,431.94 442.41,432.0 442.6,432.64 442.78,434.26 442.96,435.55 443.15,437.01 443.33,437.98 443.51,439.26 443.69,439.84 443.87,440.07 444.05,441.04 444.24,440.89 444.42,443.26 444.6,444.66 444.8,445.61 445.0,446.03 445.2,446.9 445.4,448.64 445.6,448.86 445.8,450.31 446.0,451.11 446.2,451.74 446.4,453.47 446.6,452.97 446.97,454.09 447.34,454.71 447.71,455.67 448.09,458.4 448.46,459.51 448.83,459.16 449.2,460.46 449.88,461.41 450.56,461.83 451.24,462.59 451.92,462.46 452.6,463.37 453.63,463.91 454.67,464.33 455.7,464.5" fill="none" stroke="#dd2a1c" stroke-width="1.6" stroke-linejoin="round"/>
<polyline points="396.1,464.11 397.1,463.54 398.1,463.06 399.1,462.52 400.1,461.97 400.92,461.84 401.74,460.93 402.56,460.54 403.38,460.57 404.2,459.83 404.8,458.8 405.4,457.72 406.0,457.22 406.6,456.79 407.2,455.69 407.54,455.01 407.89,453.79 408.23,453.04 408.57,451.95 408.91,451.27 409.26,450.66 409.6,448.97 409.9,448.48 410.2,447.67 410.5,446.53 410.8,445.71 411.1,445.14 411.4,444.6 411.7,443.29 412.0,442.3 412.3,440.83 412.5,440.97 412.7,439.5 412.9,438.56 413.1,437.32 413.3,436.73 413.5,435.51 413.7,434.95 413.9,434.16 414.1,433.12 414.3,432.28 414.52,431.06 414.74,430.85 414.97,429.34 415.19,428.1 415.41,427.7 415.63,426.64 415.86,425.67 416.08,424.98 416.3,424.29 416.62,422.83 416.94,422.12 417.26,421.57 417.58,420.32 417.9,419.05 418.6,418.14 419.3,417.06 419.97,417.75 420.63,418.65 421.3,419.07 421.65,419.23 422.0,420.79 422.35,421.38 422.7,422.7 423.05,423.17 423.4,424.24 423.62,425.74 423.84,425.66 424.07,426.53 424.29,427.33 424.51,427.93 424.73,428.97 424.96,430.53 425.18,431.12 425.4,431.64 425.62,432.66 425.84,434.19 426.07,434.67 426.29,435.69 426.51,436.8 426.73,438.01 426.96,439.08 427.18,439.71 427.4,440.34 427.62,441.26 427.84,442.64 428.07,443.43 428.29,443.81 428.51,444.94 428.73,445.79 428.96,446.62 429.18,447.35 429.4,448.0 429.65,449.13 429.9,449.71 430.15,451.43 430.4,452.11 430.65,452.48 430.9,454.14 431.15,454.88 431.4,454.93 431.92,456.89 432.43,457.41 432.95,458.62 433.47,458.46 433.98,459.81 434.5,460.6 435.3,461.14 436.1,461.73 436.9,462.45 437.7,462.74 438.5,463.4 439.52,463.6 440.54,463.87 441.56,464.07 442.58,464.31 443.6,464.5" fill="none" stroke="#000" stroke-width="1.9" stroke-linejoin="round"/>
<path d="M394.1,414.5V465.1" fill="none" stroke="#000" stroke-width="2.1"/><path d="M393.1,465.1H474.9" fill="none" stroke="#000" stroke-width="2.7"/>
<path d="M394.10,465.1v2.2M414.30,465.1v2.2M434.50,465.1v2.2M454.70,465.1v2.2M474.90,465.1v2.2" stroke="#000" stroke-width="1.1" fill="none"/>
<text x="435.8" y="480.3" font-size="10.5" font-weight="bold" text-anchor="middle" fill="#000" textLength="30.9" lengthAdjust="spacingAndGlyphs" stroke="#000" stroke-width="0.3">CD86</text>
<polyline points="31.0,543.82 31.91,543.72 32.83,543.56 33.74,543.49 34.65,543.56 35.56,543.46 36.47,543.29 37.39,543.14 38.3,543.35 39.2,542.36 40.1,542.1 41.0,541.75 41.9,540.58 42.52,540.41 43.13,538.47 43.75,539.2 44.37,537.85 44.98,535.76 45.6,536.7 45.99,534.62 46.37,535.33 46.76,532.95 47.14,532.42 47.53,531.84 47.91,530.46 48.3,529.99 48.61,528.46 48.92,528.46 49.23,527.04 49.54,526.27 49.86,523.12 50.17,525.14 50.48,523.37 50.79,521.09 51.1,521.57 51.31,520.94 51.52,520.48 51.73,517.96 51.94,519.02 52.15,516.83 52.36,517.84 52.57,515.02 52.78,514.73 52.99,513.04 53.2,511.56 53.44,512.31 53.68,511.25 53.91,510.82 54.15,509.39 54.39,507.41 54.62,505.68 54.86,505.52 55.1,504.59 55.33,503.57 55.57,503.7 55.8,502.6 56.03,501.23 56.27,500.65 56.5,499.49 57.13,500.69 57.77,502.03 58.4,503.12 59.3,502.34 60.2,502.17 60.93,504.97 61.67,504.59 62.4,505.93 62.63,504.78 62.87,506.69 63.1,507.87 63.33,507.69 63.57,509.3 63.8,511.14 64.75,512.31 65.7,513.6 66.6,511.45 67.5,510.75 68.4,511.89 69.33,512.51 70.27,512.24 71.2,511.42 72.4,512.99 73.6,512.99 74.8,512.82 75.72,511.58 76.65,511.73 77.58,511.64 78.5,510.18 79.4,508.58 80.3,509.58 81.2,509.06 82.1,508.11 83.0,508.17 83.9,506.46 84.85,507.29 85.8,507.57 86.4,509.16 87.0,510.86 87.6,510.41 87.86,513.06 88.11,513.58 88.37,513.94 88.63,514.7 88.89,516.5 89.14,515.95 89.4,516.92 89.56,517.11 89.73,519.17 89.89,520.74 90.05,521.04 90.22,521.86 90.38,522.3 90.55,523.49 90.71,523.2 90.87,525.97 91.04,525.78 91.2,526.17 91.35,527.36 91.5,528.22 91.65,530.4 91.8,531.47 91.95,530.58 92.1,533.21 92.25,534.11 92.4,533.93 92.55,534.17 92.7,535.64 92.92,536.62 93.13,538.26 93.35,538.65 93.57,538.63 93.78,540.81 94.0,541.06 94.45,542.89 94.9,543.8" fill="none" stroke="#dd2a1c" stroke-width="1.6" stroke-linejoin="round"/>
<polyline points="36.4,543.76 37.32,543.66 38.23,543.53 39.15,543.42 40.07,543.4 40.98,543.27 41.9,543.14 42.82,542.73 43.73,542.14 44.65,541.83 45.57,541.42 46.48,540.94 47.4,540.79 48.17,539.94 48.93,539.33 49.7,538.61 50.47,537.68 51.23,537.88 52.0,537.5 52.64,536.37 53.29,535.24 53.93,533.93 54.57,534.01 55.21,533.54 55.86,532.47 56.5,531.88 56.96,531.24 57.42,530.34 57.89,529.07 58.35,528.72 58.81,527.83 59.28,526.34 59.74,525.88 60.2,524.77 60.59,524.25 60.97,523.54 61.36,522.14 61.74,520.93 62.13,521.02 62.51,519.83 62.9,519.24 63.24,517.49 63.59,517.29 63.93,516.68 64.27,515.74 64.61,514.17 64.96,513.4 65.3,512.35 65.66,511.78 66.02,510.87 66.38,509.67 66.74,508.31 67.1,508.02 67.73,506.76 68.37,506.19 69.0,505.18 69.6,504.69 70.2,503.64 70.8,502.26 71.4,501.57 72.0,501.06 72.6,499.44 73.9,500.63 74.5,501.79 75.1,502.74 75.7,503.46 76.3,503.58 76.9,504.27 77.5,505.4 78.1,506.12 78.65,507.69 79.2,507.59 79.75,509.12 80.3,509.93 80.66,510.1 81.02,511.25 81.38,512.45 81.74,513.15 82.1,514.15 82.32,515.25 82.55,515.78 82.78,517.08 83.0,517.66 83.22,518.6 83.45,519.84 83.68,520.42 83.9,521.59 84.09,522.9 84.28,523.35 84.47,524.22 84.66,525.4 84.85,525.99 85.04,527.34 85.23,527.56 85.42,529.05 85.61,529.63 85.8,530.46 86.04,532.14 86.29,532.27 86.53,533.96 86.78,534.54 87.02,535.69 87.27,535.87 87.51,537.44 87.76,538.43 88.0,538.87 88.46,539.71 88.92,541.05 89.38,541.45 89.84,542.21 90.3,543.06 91.23,543.36 92.17,543.58 93.1,543.8" fill="none" stroke="#000" stroke-width="1.9" stroke-linejoin="round"/>
<path d="M27.7,491.4V544.4" fill="none" stroke="#000" stroke-width="2.1"/><path d="M26.7,544.4H107.3" fill="none" stroke="#000" stroke-width="2.7"/>
<path d="M27.70,544.4v2.2M47.60,544.4v2.2M67.50,544.4v2.2M87.40,544.4v2.2M107.30,544.4v2.2" stroke="#000" stroke-width="1.1" fill="none"/>
<text x="62.0" y="560.6" font-size="10.5" font-weight="bold" text-anchor="middle" fill="#000" textLength="22.5" lengthAdjust="spacingAndGlyphs" stroke="#000" stroke-width="0.3">IgM</text>
<polyline points="138.3,543.64 139.1,543.46 139.9,542.24 140.7,541.94 141.5,541.86 142.3,539.91 142.63,540.34 142.97,540.1 143.3,536.82 143.63,536.12 143.97,535.28 144.3,533.78 144.63,534.62 144.97,532.0 145.3,532.87 145.51,532.68 145.72,529.47 145.93,529.53 146.14,527.42 146.35,528.53 146.56,526.49 146.77,525.93 146.98,525.26 147.19,524.72 147.4,523.14 147.58,522.49 147.76,521.15 147.95,520.73 148.13,518.85 148.31,518.86 148.49,516.44 148.67,516.61 148.85,517.49 149.04,515.2 149.22,513.27 149.4,513.49 149.62,511.67 149.84,510.26 150.07,510.05 150.29,510.25 150.51,509.09 150.73,507.83 150.96,506.31 151.18,505.29 151.4,506.21 151.9,504.38 152.4,502.49 152.9,500.62 153.4,500.17 153.8,502.24 154.2,498.7 154.6,498.68 155.0,498.08 155.4,496.98 155.82,497.71 156.24,497.71 156.66,498.77 157.08,501.65 157.5,500.63 158.5,501.28 159.5,498.83 160.5,499.39 161.5,499.3 162.5,499.38 163.5,497.26 164.17,497.88 164.83,497.06 165.5,495.55 166.2,495.79 166.9,494.09 167.6,493.5 168.6,493.39 169.6,490.66 170.6,492.82 171.6,492.35 172.1,492.75 172.6,494.28 173.1,495.92 173.6,495.8 174.1,498.05 174.6,497.23 175.1,498.12 175.6,501.26 176.02,501.22 176.44,502.45 176.86,501.94 177.28,503.98 177.7,504.39 178.2,505.69 178.7,506.22 179.2,508.1 179.7,507.71 180.7,507.98 181.7,508.09 182.7,510.57 183.7,509.65 184.2,510.19 184.7,511.05 185.2,512.19 185.7,512.35 185.98,514.08 186.26,514.83 186.54,515.89 186.82,516.58 187.1,518.33 187.31,518.84 187.53,520.16 187.74,521.15 187.95,522.11 188.16,521.1 188.38,523.22 188.59,523.92 188.8,525.98 189.02,525.12 189.24,526.66 189.47,527.88 189.69,528.75 189.91,530.64 190.13,530.47 190.36,532.42 190.58,531.5 190.8,532.14 191.18,535.29 191.55,535.58 191.93,536.49 192.3,537.09 192.68,538.24 193.05,537.84 193.43,540.29 193.8,540.19 194.4,541.8 195.0,542.17 195.6,542.41 196.2,543.55 196.8,544.68 197.83,544.79 198.87,544.99 199.9,545.2" fill="none" stroke="#dd2a1c" stroke-width="1.6" stroke-linejoin="round"/>
<polyline points="124.1,545.2 125.0,545.15 125.9,545.11 126.8,545.07 127.7,545.02 128.6,544.99 129.5,544.93 130.4,544.92 131.3,544.88 132.2,544.83 133.07,544.52 133.94,544.18 134.81,543.87 135.69,543.53 136.56,543.16 137.43,542.91 138.3,542.52 138.97,542.19 139.63,541.34 140.3,540.45 140.97,539.36 141.63,539.17 142.3,538.38 142.9,537.34 143.5,536.49 144.1,535.32 144.7,535.34 145.3,534.31 145.9,534.27 146.62,532.87 147.35,532.21 148.08,532.06 148.8,531.04 149.67,531.32 150.53,531.42 151.4,531.62 152.0,532.99 152.6,533.58 153.2,534.53 153.8,534.66 154.4,535.51 155.22,535.84 156.04,536.99 156.86,536.88 157.68,538.07 158.5,538.83 159.5,539.07 160.5,538.52 161.5,539.28 162.5,538.89 163.52,538.75 164.54,538.46 165.56,539.09 166.58,539.11 167.6,538.32 168.6,537.77 169.6,537.4 170.6,537.75 171.6,536.8 172.2,535.54 172.8,534.36 173.4,533.9 174.0,533.66 174.6,533.06 174.9,531.53 175.2,530.52 175.5,529.68 175.8,528.38 176.1,528.33 176.4,526.85 176.7,526.61 177.0,524.89 177.16,524.09 177.32,523.62 177.48,522.38 177.65,521.91 177.81,520.75 177.97,519.46 178.13,519.07 178.29,518.21 178.45,516.45 178.62,516.64 178.78,515.31 178.94,514.46 179.1,512.74 179.25,512.15 179.41,511.33 179.56,510.83 179.72,509.14 179.87,508.38 180.02,507.11 180.18,506.71 180.33,505.96 180.48,504.42 180.64,503.81 180.79,503.21 180.95,502.61 181.1,501.4 181.35,500.22 181.6,499.07 181.85,498.26 182.1,497.45 182.35,496.81 182.6,495.86 182.85,495.49 183.1,494.19 183.9,493.28 184.7,493.56 185.1,494.38 185.5,495.13 185.9,495.88 186.3,496.54 186.46,497.69 186.61,499.17 186.77,499.56 186.92,500.3 187.08,501.66 187.23,502.57 187.39,503.58 187.54,504.5 187.7,505.62 187.82,505.88 187.93,507.36 188.05,507.7 188.16,509.13 188.28,509.91 188.39,510.86 188.51,512.01 188.62,512.64 188.74,513.91 188.85,514.77 188.97,515.48 189.08,516.2 189.2,517.07 189.32,518.07 189.45,519.1 189.57,520.08 189.69,521.92 189.82,522.15 189.94,523.12 190.06,523.56 190.18,524.53 190.31,525.58 190.43,526.67 190.55,527.23 190.68,528.95 190.8,529.23 191.0,530.63 191.2,530.52 191.4,532.13 191.6,533.12 191.8,534.01 192.0,535.04 192.2,535.85 192.4,536.73 192.6,537.02 192.8,538.29 193.3,538.66 193.8,540.36 194.3,541.11 194.8,541.87 195.3,542.65 195.8,543.55 196.83,544.23 197.87,544.71 198.9,545.2" fill="none" stroke="#000" stroke-width="1.9" stroke-linejoin="round"/>
<path d="M122.1,489.0V545.2" fill="none" stroke="#000" stroke-width="2.1"/><path d="M121.1,545.2H200.9" fill="none" stroke="#000" stroke-width="2.7"/>
<path d="M122.10,545.2v2.2M141.80,545.2v2.2M161.50,545.2v2.2M181.20,545.2v2.2M200.90,545.2v2.2" stroke="#000" stroke-width="1.1" fill="none"/>
<text x="162.8" y="560.3" font-size="10.5" font-weight="bold" text-anchor="middle" fill="#000" textLength="22.8" lengthAdjust="spacingAndGlyphs" stroke="#000" stroke-width="0.3">IgD</text>
<polyline points="215.5,503.16 215.51,505.07 215.51,503.81 215.52,504.45 215.53,506.44 215.54,507.04 215.54,508.18 215.55,509.64 215.56,512.67 215.56,510.8 215.57,512.24 215.58,513.31 215.59,513.97 215.59,515.6 215.6,517.13 215.61,515.77 215.61,517.72 215.62,518.3 215.63,519.67 215.64,519.15 215.64,519.88 215.65,520.36 215.66,523.39 215.66,524.04 215.67,524.86 215.68,523.93 215.69,526.32 215.69,526.93 215.7,527.34 215.71,528.61 215.71,530.72 215.72,531.51 215.73,531.98 215.74,533.29 215.74,533.35 215.75,534.75 215.76,535.63 215.76,536.92 215.77,537.35 215.78,538.19 215.79,539.11 215.79,539.74 215.8,542.01 216.1,541.7 217.1,541.29 218.1,541.82 219.1,541.05 220.1,538.99 220.92,539.69 221.74,539.17 222.56,539.27 223.38,538.17 224.2,537.08 224.63,534.75 225.06,534.1 225.49,534.09 225.91,533.39 226.34,531.38 226.77,530.98 227.2,530.1 227.5,529.54 227.8,528.83 228.1,527.45 228.4,525.83 228.7,526.78 229.0,526.14 229.3,523.95 229.6,523.89 229.9,522.54 230.2,521.79 230.45,520.75 230.69,518.91 230.94,519.0 231.18,518.42 231.43,516.08 231.67,517.32 231.92,516.5 232.16,515.39 232.41,514.61 232.65,512.77 232.9,511.05 233.12,509.93 233.34,508.85 233.55,508.63 233.77,507.6 233.99,507.21 234.21,504.28 234.43,506.61 234.65,505.66 234.86,503.02 235.08,502.63 235.3,501.56 235.57,500.51 235.83,499.24 236.1,498.41 236.37,496.98 236.63,496.83 236.9,495.78 237.17,495.14 237.43,493.36 237.7,493.13 238.1,492.24 238.5,491.75 238.9,489.6 239.3,489.81 239.7,489.34 240.5,489.75 241.3,489.72 242.35,488.93 243.4,488.42 243.9,490.02 244.4,491.51 244.9,491.11 245.4,491.62 245.65,493.26 245.9,494.0 246.15,494.04 246.4,495.05 246.65,496.4 246.9,497.85 247.15,497.33 247.4,498.34 247.62,500.37 247.84,499.98 248.07,501.88 248.29,502.96 248.51,503.52 248.73,503.74 248.96,505.36 249.18,506.05 249.4,507.45 249.67,507.47 249.93,509.82 250.2,508.64 250.47,510.67 250.73,511.71 251.0,513.32 251.27,513.04 251.53,514.81 251.8,514.87 252.19,516.71 252.57,518.32 252.96,517.57 253.34,519.06 253.73,518.89 254.11,521.17 254.5,522.21 255.1,522.15 255.7,522.09 256.3,524.06 256.9,525.44 257.5,526.22 258.25,526.76 259.0,525.53 259.75,527.14 260.5,529.47 261.27,528.23 262.05,530.75 262.83,532.06 263.6,531.97 264.4,532.86 265.2,532.39 266.0,532.34 266.8,533.8 267.6,534.35 268.6,534.96 269.6,536.02 270.6,535.89 271.6,536.64 272.62,537.17 273.65,537.2 274.68,538.93 275.7,538.23 276.5,538.48 277.3,538.79 278.1,539.06 278.9,540.76 279.7,540.58 280.73,540.4 281.75,541.07 282.77,541.65 283.8,541.96 284.8,542.59 285.8,542.14 286.8,542.75 287.8,542.83 288.8,542.48 289.8,542.71 290.8,542.63 291.8,542.73 292.12,541.41 292.44,540.71 292.76,538.49 293.08,537.71 293.4,538.09 293.43,537.35 293.47,535.63 293.5,534.26 293.54,534.59 293.57,531.28 293.61,531.32 293.64,531.49 293.68,530.54 293.71,528.35 293.75,526.78 293.78,528.35 293.82,526.45 293.85,524.73 293.88,524.51 293.92,524.21 293.95,520.66 293.99,522.51 294.02,521.3 294.06,518.25 294.09,519.46 294.13,516.62 294.16,517.88 294.2,516.39 294.23,516.85 294.27,513.77 294.3,513.3" fill="none" stroke="#dd2a1c" stroke-width="1.6" stroke-linejoin="round"/>
<polyline points="216.1,543.2 217.12,543.08 218.14,542.74 219.16,542.53 220.18,542.36 221.2,542.19 222.0,541.5 222.8,541.2 223.6,540.69 224.4,540.06 225.2,539.93 225.8,538.6 226.4,538.29 227.0,536.94 227.6,536.53 228.2,534.92 228.97,534.81 229.75,533.95 230.53,533.1 231.3,532.32 232.1,531.86 232.9,531.2 233.7,530.22 234.5,530.16 235.3,529.64 236.3,529.29 237.3,528.78 238.3,528.71 239.3,528.64 240.33,528.19 241.37,527.99 242.4,528.41 243.27,527.76 244.13,527.21 245.0,526.75 245.5,525.3 246.0,524.36 246.5,523.73 247.0,522.23 247.18,521.48 247.35,520.74 247.53,519.85 247.7,518.77 247.88,518.26 248.05,517.02 248.22,516.41 248.4,515.62 248.56,514.6 248.71,513.72 248.87,512.25 249.02,511.31 249.18,510.61 249.33,510.04 249.49,509.45 249.64,507.73 249.8,507.29 249.98,506.04 250.16,505.18 250.33,504.42 250.51,503.81 250.69,502.76 250.87,502.15 251.04,500.6 251.22,500.27 251.4,499.38 251.7,498.26 252.0,497.53 252.3,496.36 252.6,495.34 252.9,494.69 253.2,493.76 253.5,493.97 253.9,492.13 254.3,491.96 254.7,490.7 255.1,489.91 255.5,489.22 257.1,489.17 258.5,490.27 258.85,491.14 259.2,491.6 259.55,493.26 259.9,494.27 260.15,495.12 260.4,496.35 260.65,496.64 260.9,497.8 261.15,498.76 261.4,499.15 261.65,500.67 261.9,500.76 262.13,501.7 262.37,503.13 262.6,503.54 262.83,504.72 263.07,505.15 263.3,506.55 263.53,507.08 263.77,508.41 264.0,508.74 264.18,510.25 264.36,510.96 264.55,511.97 264.73,512.85 264.91,513.83 265.09,514.31 265.27,514.86 265.45,516.56 265.64,517.18 265.82,518.25 266.0,519.43 266.2,519.61 266.4,520.89 266.6,521.85 266.8,522.62 267.0,523.95 267.2,524.72 267.4,525.42 267.6,526.28 267.8,527.73 268.0,528.2 268.29,529.45 268.57,530.28 268.86,530.45 269.14,531.56 269.43,532.76 269.71,533.73 270.0,534.73 270.54,535.54 271.08,536.41 271.62,536.79 272.16,537.64 272.7,538.73 273.45,539.14 274.2,540.24 274.95,540.44 275.7,541.6 276.7,541.7 277.7,541.68 278.7,542.28 279.7,542.41 280.7,542.6 281.71,542.52 282.73,542.61 283.74,542.83 284.76,542.64 285.77,542.42 286.79,542.69 287.8,542.69 288.8,542.75 289.8,542.68 290.8,542.59 291.8,542.56 292.8,542.7 292.88,541.44 292.96,541.09 293.04,539.64 293.11,538.51 293.19,538.12 293.27,537.11 293.35,535.69 293.43,535.28 293.51,533.56 293.59,532.89 293.66,532.57 293.74,531.21 293.82,529.95 293.9,529.4" fill="none" stroke="#000" stroke-width="1.9" stroke-linejoin="round"/>
<path d="M215.1,487.0V544.6" fill="none" stroke="#000" stroke-width="2.1"/><path d="M214.1,544.6H294.9" fill="none" stroke="#000" stroke-width="2.7"/>
<path d="M215.10,544.6v2.2M235.05,544.6v2.2M255.00,544.6v2.2M274.95,544.6v2.2M294.90,544.6v2.2" stroke="#000" stroke-width="1.1" fill="none"/>
<text x="255.2" y="561.3" font-size="10.5" font-weight="bold" text-anchor="middle" fill="#000" textLength="29.7" lengthAdjust="spacingAndGlyphs" stroke="#000" stroke-width="0.3">CD21</text>
<polyline points="325.3,544.83 326.22,544.78 327.14,544.65 328.05,544.44 328.97,544.48 329.89,544.48 330.81,544.44 331.73,544.5 332.65,544.19 333.56,544.08 334.48,544.07 335.4,544.18 336.32,543.82 337.24,544.13 338.15,543.44 339.07,543.99 339.99,543.7 340.91,543.86 341.83,543.87 342.75,543.49 343.66,543.66 344.58,543.68 345.5,543.72 346.5,543.23 347.5,543.03 348.5,542.59 349.5,543.65 350.5,542.71 351.5,542.53 352.32,541.62 353.14,542.16 353.96,541.08 354.78,541.69 355.6,541.0 356.1,539.68 356.6,539.38 357.1,537.17 357.6,536.92 358.1,535.9 358.6,534.55 358.82,534.61 359.04,533.59 359.27,533.88 359.49,529.39 359.71,530.5 359.93,529.41 360.16,528.85 360.38,528.62 360.6,527.7 360.78,526.5 360.96,525.21 361.15,525.02 361.33,524.0 361.51,521.43 361.69,521.69 361.87,519.94 362.05,519.17 362.24,519.25 362.42,518.26 362.6,517.39 362.79,515.73 362.98,515.31 363.17,513.86 363.36,513.91 363.55,513.23 363.75,513.11 363.94,511.82 364.13,509.35 364.32,508.69 364.51,507.41 364.7,507.43 364.92,507.79 365.14,505.93 365.37,502.85 365.59,502.66 365.81,501.73 366.03,502.19 366.26,500.9 366.48,500.22 366.7,500.44 367.1,497.48 367.5,496.46 367.9,497.57 368.3,495.36 368.7,493.52 370.1,491.58 370.5,492.96 370.9,493.27 371.3,496.15 371.48,497.02 371.65,498.62 371.82,498.66 372.0,499.13 372.18,499.98 372.35,502.85 372.52,500.99 372.7,503.33 372.84,504.14 372.97,505.5 373.11,505.65 373.25,507.25 373.38,508.4 373.52,508.6 373.65,509.28 373.79,510.41 373.93,510.74 374.06,512.23 374.2,513.07 374.32,514.39 374.45,516.16 374.57,517.07 374.69,516.69 374.82,518.41 374.94,519.11 375.06,520.39 375.18,520.76 375.31,521.88 375.43,522.26 375.55,522.95 375.68,525.12 375.8,526.37 375.95,526.83 376.11,527.59 376.26,528.39 376.42,528.79 376.57,528.72 376.72,531.48 376.88,532.06 377.03,532.43 377.18,533.05 377.34,535.67 377.49,534.29 377.65,537.89 377.8,537.98 378.09,540.15 378.37,538.71 378.66,540.1 378.94,540.72 379.23,541.92 379.51,542.66 379.8,543.45 380.8,544.42 381.8,545" fill="none" stroke="#dd2a1c" stroke-width="1.6" stroke-linejoin="round"/>
<polyline points="306.7,545.2 307.66,545.15 308.62,545.11 309.58,545.06 310.55,545.01 311.51,544.97 312.47,544.92 313.43,544.86 314.39,544.83 315.35,544.78 316.32,544.78 317.28,544.66 318.24,544.67 319.2,544.58 320.22,544.42 321.23,544.25 322.25,544.11 323.27,543.99 324.28,543.89 325.3,543.55 326.3,543.39 327.3,543.03 328.3,542.69 329.3,542.13 330.3,542.05 331.32,541.53 332.35,541.27 333.38,540.79 334.4,540.66 335.4,540.86 336.4,540.95 337.4,540.75 338.4,541.11 339.42,541.21 340.44,540.7 341.46,541.22 342.48,540.61 343.5,541.02 344.5,540.83 345.5,540.85 346.5,540.37 347.5,539.98 348.5,539.69 349.25,538.93 350.0,538.93 350.75,538.03 351.5,537.28 351.92,536.86 352.34,535.67 352.76,534.97 353.18,534.16 353.6,534.0 353.89,533.07 354.17,531.71 354.46,530.41 354.74,530.1 355.03,529.16 355.31,528.38 355.6,527.57 355.82,526.4 356.04,525.88 356.27,524.95 356.49,523.86 356.71,522.78 356.93,521.86 357.16,521.31 357.38,519.87 357.6,519.25 357.78,518.16 357.96,517.05 358.15,516.73 358.33,515.62 358.51,514.72 358.69,514.05 358.87,512.42 359.05,511.93 359.24,511.12 359.42,510.37 359.6,508.87 359.82,508.53 360.04,507.49 360.27,506.94 360.49,505.99 360.71,504.92 360.93,504.51 361.16,502.98 361.38,501.96 361.6,501.1 361.95,500.07 362.3,499.49 362.65,498.09 363.0,497.77 363.35,497.08 363.7,496.4 364.5,495.0 365.3,494.52 366.7,494.9 366.98,496.06 367.26,496.54 367.54,497.87 367.82,498.86 368.1,500.54 368.26,501.17 368.42,501.6 368.58,502.99 368.74,503.88 368.9,504.58 369.06,505.57 369.22,506.38 369.38,507.22 369.54,507.77 369.7,509.17 369.82,510.51 369.95,511.48 370.07,511.91 370.19,512.7 370.32,513.79 370.44,515.05 370.56,515.82 370.68,516.48 370.81,517.68 370.93,518.45 371.05,519.59 371.18,520.25 371.3,520.87 371.43,522.24 371.55,523.36 371.68,523.73 371.81,524.94 371.94,526.15 372.06,526.7 372.19,527.54 372.32,529.24 372.45,529.81 372.57,530.78 372.7,531.12 372.91,532.79 373.12,532.74 373.33,533.98 373.54,535.26 373.75,536.34 373.96,536.59 374.17,537.58 374.38,538.74 374.59,539.06 374.8,540.65 375.3,541.48 375.8,542.19 376.3,543.18 376.8,544.05 377.8,544.41 378.8,544.81 379.8,545.2" fill="none" stroke="#000" stroke-width="1.9" stroke-linejoin="round"/>
<path d="M306.7,489.4V545.2" fill="none" stroke="#000" stroke-width="2.1"/><path d="M305.7,545.2H384.9" fill="none" stroke="#000" stroke-width="2.7"/>
<path d="M306.70,545.2v2.2M326.25,545.2v2.2M345.80,545.2v2.2M365.35,545.2v2.2M384.90,545.2v2.2" stroke="#000" stroke-width="1.1" fill="none"/>
<text x="350.5" y="560.7" font-size="10.5" font-weight="bold" text-anchor="middle" fill="#000" textLength="34.3" lengthAdjust="spacingAndGlyphs" stroke="#000" stroke-width="0.3">MHCII</text>
<polyline points="398.1,541.36 399.13,539.73 400.17,539.68 401.2,538.72 401.8,539.13 402.4,537.36 403.0,537.29 403.6,536.32 404.2,535.55 404.7,535.9 405.2,533.74 405.7,533.98 406.2,532.7 406.7,532.21 407.2,530.28 407.53,530.18 407.87,529.17 408.2,527.29 408.53,527.04 408.87,525.86 409.2,525.04 409.53,525.12 409.87,522.77 410.2,521.18 410.51,520.23 410.82,520.25 411.13,519.2 411.44,518.77 411.75,518.26 412.06,518.21 412.37,516.25 412.68,515.46 412.99,513.68 413.3,513.72 413.52,513.38 413.74,512.47 413.97,509.19 414.19,510.34 414.41,509.95 414.63,508.5 414.86,505.92 415.08,505.88 415.3,505.62 415.52,504.6 415.74,502.81 415.97,501.86 416.19,502.3 416.41,499.74 416.63,500.84 416.86,498.91 417.08,498.22 417.3,496.14 417.8,495.67 418.3,495.6 418.8,493.04 419.3,494.59 420.3,491.89 421.3,491.82 422.35,493.43 423.4,494.45 424.4,493.93 425.4,492.43 426.4,492.75 427.4,492.93 427.69,493.54 427.97,492.95 428.26,496.36 428.54,496.71 428.83,497.5 429.11,497.79 429.4,499.28 429.62,499.99 429.84,500.84 430.07,502.6 430.29,501.46 430.51,503.78 430.73,503.73 430.96,505.17 431.18,507.38 431.4,506.42 431.63,508.03 431.87,508.57 432.1,510.58 432.33,510.09 432.57,510.49 432.8,512.97 433.03,513.24 433.27,514.17 433.5,516.08 433.72,515.56 433.94,516.83 434.17,518.11 434.39,519.2 434.61,519.43 434.83,521.45 435.06,523.21 435.28,522.21 435.5,524.75 435.8,522.76 436.1,526.16 436.4,525.78 436.7,527.0 437.0,527.53 437.3,528.19 437.6,528.6 437.9,530.12 438.27,532.21 438.64,532.96 439.01,532.76 439.39,533.51 439.76,534.25 440.13,534.76 440.5,537.8 441.02,537.81 441.53,538.25 442.05,538.65 442.57,539.17 443.08,541.38 443.6,541.85 444.35,541.77 445.1,543.04 445.85,543.13 446.6,544.09 447.6,544.23 448.6,544.64 449.6,545" fill="none" stroke="#dd2a1c" stroke-width="1.6" stroke-linejoin="round"/>
<polyline points="397.1,521.44 397.39,520.57 397.67,519.88 397.96,518.49 398.24,518.33 398.53,517.4 398.81,516.15 399.1,515.43 399.4,514.2 399.7,513.51 400.0,512.31 400.3,511.84 400.6,511.0 400.9,510.46 401.2,509.47 401.45,508.56 401.7,507.35 401.95,506.51 402.2,505.6 402.45,504.89 402.7,503.39 402.95,503.3 403.2,501.75 403.53,501.2 403.87,500.51 404.2,499.5 404.53,499.28 404.87,497.92 405.2,497.55 405.7,496.54 406.2,495.16 406.7,494.52 407.2,493.87 408.0,492.7 408.8,492.13 409.47,492.61 410.13,493.45 410.8,494.0 411.1,494.98 411.4,496.1 411.7,497.07 412.0,497.57 412.3,498.44 412.6,499.49 412.9,500.02 413.1,500.71 413.3,502.24 413.5,502.56 413.7,504.01 413.9,504.37 414.1,506.09 414.3,506.17 414.5,507.62 414.7,508.72 414.9,508.92 415.1,510.54 415.3,510.78 415.5,511.42 415.7,513.05 415.9,513.95 416.1,514.6 416.3,514.84 416.5,516.46 416.7,517.3 416.9,518.19 417.12,519.12 417.34,519.58 417.57,520.84 417.79,522.42 418.01,523.25 418.23,523.6 418.46,524.39 418.68,525.61 418.9,526.71 419.2,527.5 419.5,527.84 419.8,529.11 420.1,529.99 420.4,531.25 420.7,532.07 421.0,532.76 421.3,533.85 421.82,534.22 422.33,535.61 422.85,535.88 423.37,536.95 423.88,537.93 424.4,538.24 425.07,538.98 425.73,539.42 426.4,540.59 427.07,541.22 427.73,541.87 428.4,542.66 429.25,542.7 430.1,543.26 430.95,543.61 431.8,543.92 432.65,544.3 433.5,544.65 434.5,544.69 435.5,544.78 436.5,544.89 437.5,545.0 438.5,545.1 439.5,545.2" fill="none" stroke="#000" stroke-width="1.9" stroke-linejoin="round"/>
<path d="M396.1,490.0V545.2" fill="none" stroke="#000" stroke-width="2.1"/><path d="M395.1,545.2H473.9" fill="none" stroke="#000" stroke-width="2.7"/>
<path d="M396.10,545.2v2.2M415.55,545.2v2.2M435.00,545.2v2.2M454.45,545.2v2.2M473.90,545.2v2.2" stroke="#000" stroke-width="1.1" fill="none"/>
<text x="430.7" y="561.3" font-size="10.5" font-weight="bold" text-anchor="middle" fill="#000" textLength="38.7" lengthAdjust="spacingAndGlyphs" stroke="#000" stroke-width="0.3">CD138</text>
<polyline points="49.2,622.94 50.12,622.81 51.03,622.25 51.95,622.25 52.87,621.89 53.78,621.62 54.7,621.82 55.62,620.57 56.54,620.05 57.46,619.81 58.38,619.51 59.3,617.68 60.0,618.07 60.7,616.73 61.4,617.1 62.1,617.02 62.8,615.45 63.5,614.72 63.94,614.15 64.39,611.1 64.83,613.0 65.27,612.06 65.71,610.99 66.16,609.8 66.6,608.77 67.0,608.25 67.4,608.34 67.8,606.48 68.2,606.6 68.6,602.86 69.0,603.47 69.22,603.08 69.45,601.97 69.67,599.87 69.9,599.67 70.12,600.14 70.35,597.4 70.58,596.7 70.8,595.71 71.02,595.19 71.25,595.14 71.47,594.19 71.7,591.39 71.92,592.99 72.15,590.6 72.38,589.69 72.6,590.4 72.79,588.23 72.97,586.48 73.16,586.0 73.34,585.02 73.53,583.9 73.71,583.47 73.9,583.43 74.16,582.15 74.42,580.01 74.68,582.11 74.94,578.49 75.2,578.38 75.55,577.4 75.9,577.0 76.25,575.29 76.6,574.93 77.1,575.22 77.6,572.87 78.1,571.12 79.4,571.24 80.8,570.42 81.45,571.63 82.1,572.94 82.32,573.96 82.53,574.43 82.75,576.16 82.97,576.33 83.18,576.44 83.4,578.93 83.54,578.95 83.68,581.0 83.81,580.57 83.95,582.36 84.09,583.09 84.22,581.83 84.36,583.61 84.5,584.79 84.63,587.52 84.76,586.06 84.89,588.99 85.02,590.03 85.15,590.51 85.28,591.55 85.41,591.61 85.54,592.87 85.67,593.95 85.8,595.0 85.94,596.12 86.08,596.37 86.22,596.93 86.36,597.94 86.5,599.55 86.64,598.96 86.78,600.17 86.92,601.68 87.06,602.49 87.2,603.61 87.39,602.8 87.58,605.39 87.77,606.38 87.96,608.04 88.15,606.97 88.34,609.1 88.53,610.58 88.72,611.51 88.91,612.94 89.1,613.76 89.32,613.16 89.55,615.28 89.78,615.5 90.0,616.07 90.22,618.67 90.45,618.09 90.68,618.96 90.9,620.14 91.5,620.95 92.1,622.28 92.7,623" fill="none" stroke="#dd2a1c" stroke-width="1.6" stroke-linejoin="round"/>
<polyline points="31.0,623.01 31.9,622.76 32.8,622.42 33.7,622.06 34.6,621.89 35.5,621.43 36.4,621.15 37.14,620.64 37.88,620.13 38.62,619.81 39.36,618.91 40.1,618.59 40.64,617.57 41.18,616.3 41.72,615.42 42.26,614.76 42.8,614.02 43.14,613.08 43.49,612.21 43.83,611.17 44.17,610.11 44.51,609.45 44.86,608.12 45.2,607.11 45.43,606.49 45.65,605.26 45.88,604.61 46.1,603.63 46.33,602.78 46.55,602.01 46.77,600.88 47.0,600.08 47.19,598.8 47.38,598.42 47.57,597.22 47.76,596.68 47.95,594.83 48.14,594.51 48.33,593.9 48.52,592.21 48.71,591.91 48.9,591.13 49.02,590.21 49.14,588.83 49.26,588.41 49.38,587.46 49.5,586.22 49.62,585.8 49.74,584.65 49.86,583.75 49.98,582.69 50.1,582.06 50.29,581.01 50.47,580.4 50.66,579.29 50.84,578.06 51.03,577.26 51.21,576.68 51.4,575.39 51.77,574.71 52.15,573.85 52.52,572.75 52.9,571.23 54.0,571.04 54.65,571.96 55.3,572.84 55.54,573.5 55.78,574.99 56.02,575.52 56.26,576.3 56.5,577.19 56.67,578.42 56.83,578.91 57.0,579.84 57.17,581.62 57.33,582.34 57.5,583.17 57.67,584.17 57.83,584.86 58.0,585.11 58.14,586.86 58.29,587.78 58.43,588.48 58.58,588.68 58.72,590.52 58.87,591.46 59.01,591.83 59.16,592.93 59.3,594.03 59.48,594.69 59.66,595.94 59.84,596.55 60.02,597.64 60.2,598.37 60.38,598.83 60.56,599.88 60.74,602.0 60.92,602.07 61.1,603.28 61.33,604.14 61.55,605.22 61.77,605.8 62.0,606.38 62.23,607.47 62.45,607.82 62.67,609.23 62.9,610.46 63.37,610.49 63.83,612.09 64.3,613.19 64.77,614.25 65.23,614.51 65.7,615.51 66.42,615.89 67.14,616.88 67.86,618.07 68.58,619.16 69.3,619.17 70.22,619.96 71.13,620.07 72.05,620.22 72.97,620.92 73.88,620.57 74.8,621.19 75.72,621.37 76.63,621.72 77.55,621.82 78.47,622.0 79.38,621.96 80.3,622.17 81.22,622.34 82.13,622.43 83.05,622.57 83.97,622.69 84.88,622.84 85.8,623" fill="none" stroke="#000" stroke-width="1.9" stroke-linejoin="round"/>
<path d="M27.3,569.5V623.6" fill="none" stroke="#000" stroke-width="2.1"/><path d="M26.3,623.6H105.5" fill="none" stroke="#000" stroke-width="2.7"/>
<path d="M27.30,623.6v2.2M46.85,623.6v2.2M66.40,623.6v2.2M85.95,623.6v2.2M105.50,623.6v2.2" stroke="#000" stroke-width="1.1" fill="none"/>
<text x="63.4" y="637.6" font-size="10.5" font-weight="bold" text-anchor="middle" fill="#000" textLength="21.0" lengthAdjust="spacingAndGlyphs" stroke="#000" stroke-width="0.3">Fas</text>
<polyline points="123.1,617.94 123.72,619.08 124.34,616.8 124.96,614.86 125.58,615.83 126.2,614.88 126.8,614.15 127.4,614.46 128.0,612.18 128.6,611.19 129.2,609.96 129.47,609.57 129.75,608.34 130.02,607.89 130.29,609.11 130.56,606.2 130.84,604.37 131.11,605.48 131.38,603.78 131.65,602.83 131.93,601.84 132.2,601.0 132.42,599.97 132.64,599.59 132.85,598.38 133.07,597.71 133.29,595.44 133.51,594.89 133.73,593.44 133.95,593.75 134.16,592.74 134.38,590.88 134.6,590.73 134.81,591.31 135.02,589.38 135.23,586.76 135.44,586.59 135.65,586.21 135.86,584.81 136.07,584.21 136.28,583.88 136.49,582.35 136.7,580.4 136.95,580.83 137.2,579.35 137.45,578.62 137.7,577.24 137.95,575.75 138.2,574.96 138.45,574.73 138.7,573.32 139.2,571.37 139.7,573.44 140.2,571.0 140.7,570.57 141.5,570.49 142.3,567.34 142.8,570.83 143.3,570.04 143.8,571.83 144.3,571.75 144.63,573.17 144.97,573.88 145.3,574.65 145.63,574.17 145.97,575.28 146.3,577.17 146.65,579.06 147.0,578.47 147.35,580.09 147.7,580.65 148.05,581.72 148.4,582.92 148.69,581.98 148.97,584.14 149.26,584.68 149.54,585.46 149.83,585.93 150.11,586.85 150.4,587.55 150.65,588.37 150.9,591.88 151.15,592.17 151.4,591.81 151.65,593.22 151.9,592.84 152.15,592.39 152.4,593.97 152.7,596.29 153.0,598.13 153.3,597.93 153.6,598.12 153.9,599.56 154.2,599.9 154.5,600.49 154.8,602.23 155.14,603.0 155.48,603.58 155.81,604.42 156.15,605.27 156.49,607.01 156.82,608.74 157.16,608.46 157.5,611.13 157.93,609.17 158.36,611.41 158.79,611.23 159.21,612.81 159.64,613.86 160.07,615.05 160.5,616.33 161.3,615.71 162.1,615.83 162.9,617.23 163.7,618.16 164.5,618.23 165.37,619.28 166.24,619.87 167.11,618.64 167.99,619.67 168.86,620.15 169.73,619.26 170.6,620.27 171.5,620.17 172.4,619.82 173.3,620.76 174.2,620.45 175.1,620.27 176.0,620.6 176.9,620.71 177.8,620.78 178.7,620.77 179.7,620.77 180.7,620.37 181.7,620.63 182.7,620.83 183.7,620.13 184.7,621.45 185.7,620.86 186.7,620.74 187.72,620.92 188.75,621.64 189.78,621.9 190.8,622.2" fill="none" stroke="#dd2a1c" stroke-width="1.6" stroke-linejoin="round"/>
<polyline points="123.1,610.33 123.32,609.48 123.54,608.44 123.77,607.58 123.99,606.87 124.21,605.81 124.43,605.3 124.66,604.16 124.88,603.34 125.1,602.52 125.29,601.85 125.48,600.74 125.67,599.71 125.86,598.68 126.05,597.57 126.25,596.79 126.44,596.17 126.63,595.12 126.82,594.02 127.01,592.83 127.2,591.85 127.38,591.48 127.56,590.76 127.75,589.65 127.93,588.23 128.11,587.65 128.29,586.86 128.47,585.6 128.65,585.06 128.84,583.98 129.02,582.87 129.2,581.84 129.45,581.55 129.7,580.53 129.95,579.28 130.2,578.35 130.45,578.02 130.7,577.05 130.95,575.9 131.2,575.57 131.7,574.02 132.2,572.79 132.7,572.42 133.2,571.04 133.9,570.2 134.6,569.11 135.17,569.81 135.73,570.75 136.3,572.04 136.53,573.38 136.76,573.55 136.99,575.11 137.21,575.65 137.44,576.13 137.67,577.41 137.9,578.37 138.12,578.84 138.34,579.38 138.57,581.0 138.79,581.48 139.01,582.83 139.23,583.04 139.46,584.46 139.68,585.16 139.9,585.87 140.12,587.12 140.34,588.13 140.57,588.8 140.79,589.51 141.01,590.81 141.23,591.12 141.46,592.68 141.68,593.55 141.9,594.79 142.14,595.47 142.38,596.22 142.62,597.11 142.86,597.95 143.1,598.46 143.34,600.19 143.58,600.82 143.82,601.5 144.06,602.16 144.3,603.83 144.61,604.47 144.92,604.87 145.23,606.33 145.54,607.59 145.85,607.94 146.16,608.98 146.47,609.65 146.78,610.5 147.09,611.9 147.4,613.4 147.83,613.41 148.26,614.21 148.69,615.35 149.11,615.9 149.54,617.07 149.97,617.94 150.4,618.38 151.2,619.0 152.0,619.79 152.8,620.51 153.6,621.03 154.4,621.68 155.42,621.68 156.43,621.96 157.45,622.07 158.47,622.27 159.48,622.44 160.5,622.6" fill="none" stroke="#000" stroke-width="1.9" stroke-linejoin="round"/>
<path d="M122.5,569.1V623.0" fill="none" stroke="#000" stroke-width="2.1"/><path d="M121.5,623.0H199.9" fill="none" stroke="#000" stroke-width="2.7"/>
<path d="M122.50,623.0v2.2M141.85,623.0v2.2M161.20,623.0v2.2M180.55,623.0v2.2M199.90,623.0v2.2" stroke="#000" stroke-width="1.1" fill="none"/>
<text x="154.6" y="637.7" font-size="10.5" font-weight="bold" text-anchor="middle" fill="#000" textLength="24.7" lengthAdjust="spacingAndGlyphs" stroke="#000" stroke-width="0.3">CD5</text>
<polyline points="218.1,619.13 218.78,618.79 219.47,617.48 220.15,617.74 220.83,616.25 221.52,615.82 222.2,615.66 223.0,614.42 223.8,615.14 224.6,613.24 225.4,613.72 226.2,612.71 227.0,611.15 227.8,611.14 228.6,610.09 229.4,609.84 230.2,609.3 231.02,610.42 231.84,608.4 232.66,609.44 233.48,608.23 234.3,606.55 235.3,606.15 236.3,608.66 237.3,607.05 238.05,608.5 238.8,608.2 239.55,607.21 240.3,606.25 241.08,605.47 241.85,605.09 242.62,603.93 243.4,603.01 243.9,602.13 244.4,602.25 244.9,599.95 245.4,599.68 245.65,597.68 245.9,597.11 246.15,595.74 246.4,595.71 246.65,595.46 246.9,594.3 247.15,592.83 247.4,592.74 247.58,591.15 247.76,590.77 247.93,589.8 248.11,589.09 248.29,586.0 248.47,585.95 248.64,586.56 248.82,585.02 249.0,585.83 249.23,583.03 249.47,581.8 249.7,582.28 249.93,580.6 250.17,580.58 250.4,578.57 250.68,577.03 250.96,576.69 251.24,574.57 251.52,573.8 251.8,572.7 252.45,573.94 253.1,575.67 253.38,575.77 253.66,577.37 253.94,577.8 254.22,579.82 254.5,578.2 254.79,580.92 255.07,582.07 255.36,582.03 255.64,584.42 255.93,584.71 256.21,586.36 256.5,587.0 256.66,587.65 256.81,587.97 256.97,588.18 257.12,589.7 257.28,590.41 257.43,591.81 257.59,592.19 257.74,595.63 257.9,593.14 258.08,596.05 258.26,595.76 258.43,596.82 258.61,598.57 258.79,598.8 258.97,598.82 259.14,600.9 259.32,601.36 259.5,600.91 259.72,603.44 259.94,603.44 260.17,604.56 260.39,606.35 260.61,607.12 260.83,607.59 261.06,610.27 261.28,609.9 261.5,610.06 261.86,611.53 262.21,612.13 262.57,611.48 262.93,612.79 263.29,613.78 263.64,617.14 264.0,616.37 264.52,617.12 265.04,617.77 265.56,619.51 266.08,619.79 266.6,621.22 267.6,621.37 268.6,622.05 269.6,622.2" fill="none" stroke="#dd2a1c" stroke-width="1.6" stroke-linejoin="round"/>
<polyline points="218.1,610.47 218.54,609.74 218.99,608.63 219.43,607.84 219.87,606.51 220.31,605.97 220.76,605.0 221.2,604.21 221.53,603.85 221.87,602.68 222.2,602.05 222.53,601.05 222.87,600.17 223.2,599.29 223.53,597.92 223.87,597.43 224.2,596.21 224.44,595.24 224.67,594.83 224.91,594.2 225.15,592.38 225.38,592.26 225.62,591.09 225.85,589.69 226.09,589.11 226.33,588.23 226.56,587.32 226.8,586.2 227.07,585.03 227.33,584.51 227.6,583.85 227.87,582.93 228.13,581.99 228.4,581.22 228.67,579.71 228.93,579.09 229.2,578.3 229.62,577.67 230.04,576.61 230.46,575.89 230.88,574.96 231.3,574.71 232.1,572.67 232.9,572.49 233.4,574.14 233.9,574.42 234.4,574.75 234.9,576.24 235.13,576.79 235.37,578.0 235.6,579.26 235.83,580.7 236.07,581.33 236.3,582.39 236.46,583.39 236.61,584.06 236.77,584.65 236.92,585.77 237.08,586.8 237.23,587.52 237.39,588.31 237.54,589.3 237.7,589.87 237.88,590.9 238.06,592.07 238.23,592.9 238.41,593.91 238.59,595.21 238.77,595.79 238.94,596.59 239.12,597.16 239.3,598.09 239.55,599.38 239.8,599.9 240.05,601.15 240.3,601.59 240.55,602.81 240.8,603.63 241.05,604.81 241.3,605.29 241.69,606.18 242.08,607.25 242.46,608.08 242.85,609.44 243.24,609.76 243.62,610.57 244.01,611.52 244.4,612.64 245.15,613.07 245.9,613.7 246.65,613.6 247.4,615.22 248.4,615.43 249.4,615.29 250.4,615.35 251.4,616.14 252.22,616.72 253.04,616.46 253.86,617.6 254.68,617.71 255.5,618.71 256.5,619.4 257.5,619.8 258.5,619.85 259.5,620.8 260.52,620.89 261.53,620.89 262.55,621.16 263.57,621.44 264.58,621.4 265.6,621.6 266.5,621.66 267.4,621.92 268.3,621.76 269.2,622.15 270.1,622.09 271.0,622.33 271.9,622.28 272.8,622.44 273.7,622.6" fill="none" stroke="#000" stroke-width="1.9" stroke-linejoin="round"/>
<path d="M217.5,570.1V623.6" fill="none" stroke="#000" stroke-width="2.1"/><path d="M216.5,623.6H295.5" fill="none" stroke="#000" stroke-width="2.7"/>
<path d="M217.50,623.6v2.2M237.00,623.6v2.2M256.50,623.6v2.2M276.00,623.6v2.2M295.50,623.6v2.2" stroke="#000" stroke-width="1.1" fill="none"/>
<text x="257.0" y="637.7" font-size="10.5" font-weight="bold" text-anchor="middle" fill="#000" textLength="37.4" lengthAdjust="spacingAndGlyphs" stroke="#000" stroke-width="0.3">CD122</text>
<polyline points="313.2,621.48 314.2,621.44 315.2,620.45 316.2,620.74 317.2,619.97 317.95,620.1 318.7,618.74 319.45,618.54 320.2,617.48 320.82,618.07 321.44,615.7 322.06,615.12 322.68,615.75 323.3,613.56 323.68,613.11 324.05,611.19 324.43,610.98 324.8,608.31 325.18,609.14 325.55,607.71 325.93,606.2 326.3,605.38 326.59,606.34 326.88,604.93 327.17,602.64 327.46,604.15 327.74,601.45 328.03,600.8 328.32,600.36 328.61,598.47 328.9,597.23 329.17,596.96 329.43,597.45 329.7,596.39 329.97,593.66 330.23,594.77 330.5,593.02 330.77,592.46 331.03,591.24 331.3,590.6 331.58,588.68 331.86,587.84 332.13,587.09 332.41,586.43 332.69,586.25 332.97,584.02 333.24,585.15 333.52,582.64 333.8,581.78 334.32,581.91 334.84,580.91 335.36,579.56 335.88,578.23 336.4,577.48 337.07,576.38 337.73,577.69 338.4,576.98 338.9,576.77 339.4,575.01 339.9,574.12 340.4,573.65 341.1,572.79 341.8,570.91 342.37,572.35 342.93,574.65 343.5,572.88 343.9,573.91 344.3,575.04 344.7,577.1 345.1,578.24 345.5,577.96 345.98,579.48 346.46,579.77 346.94,580.82 347.42,581.01 347.9,582.18 348.55,582.95 349.2,584.52 349.85,586.06 350.5,583.89 351.18,586.36 351.85,586.75 352.52,588.22 353.2,589.07 354.2,588.36 355.2,587.88 356.4,586.11 357.6,585.07 358.0,588.51 358.4,589.17 358.8,588.61 359.2,591.23 359.36,591.68 359.51,590.33 359.67,593.65 359.82,593.19 359.98,595.64 360.13,595.21 360.29,596.06 360.44,596.38 360.6,598.24 360.95,599.97 361.3,599.58 361.65,599.56 362.0,603.28 362.35,603.9 362.7,603.9 363.1,603.83 363.5,604.16 363.9,604.68 364.3,607.08 364.7,608.44 365.13,607.57 365.57,609.17 366.0,609.8 366.43,610.65 366.87,612.03 367.3,614.01 367.78,612.84 368.26,614.71 368.74,615.69 369.22,615.49 369.7,616.39 370.45,616.32 371.2,618.72 371.95,618.55 372.7,619.32 373.73,620.09 374.77,620.26 375.8,620.72 376.8,621.13 377.8,621.72 378.8,621.6" fill="none" stroke="#dd2a1c" stroke-width="1.6" stroke-linejoin="round"/>
<polyline points="309.1,618.55 309.52,617.92 309.94,616.54 310.36,615.58 310.78,615.85 311.2,614.38 311.6,613.05 312.0,612.47 312.4,611.68 312.8,610.0 313.2,609.24 313.5,608.69 313.8,607.46 314.1,607.07 314.4,606.23 314.7,605.19 315.0,604.05 315.3,603.27 315.6,602.22 315.84,601.44 316.07,600.66 316.31,599.56 316.55,599.01 316.78,598.56 317.02,596.73 317.25,596.07 317.49,595.29 317.73,594.32 317.96,593.15 318.2,592.16 318.46,591.68 318.72,590.66 318.98,589.72 319.24,588.43 319.5,587.93 319.76,587.07 320.02,585.88 320.28,585.21 320.54,584.74 320.8,582.66 321.11,582.5 321.43,581.11 321.74,580.18 322.05,579.63 322.36,578.98 322.68,577.97 322.99,576.74 323.3,575.78 323.8,575.11 324.3,574.35 324.8,573.18 325.3,572.06 326.1,572.31 326.9,570.86 327.4,571.8 327.9,572.44 328.4,573.18 328.9,574.11 329.3,574.86 329.7,575.98 330.1,576.31 330.5,577.07 330.9,578.92 331.3,579.18 331.61,580.31 331.93,581.32 332.24,582.02 332.55,582.76 332.86,583.19 333.18,584.06 333.49,585.7 333.8,586.5 334.06,587.37 334.32,587.62 334.58,588.38 334.84,589.59 335.1,590.46 335.36,591.75 335.62,592.3 335.88,593.96 336.14,594.22 336.4,595.14 336.69,596.45 336.98,597.2 337.27,597.74 337.56,599.14 337.84,600.36 338.13,600.34 338.42,601.53 338.71,602.19 339.0,602.84 339.4,604.45 339.8,605.35 340.2,606.3 340.6,607.01 341.0,607.17 341.4,608.62 341.8,609.31 342.42,609.82 343.03,610.51 343.65,611.72 344.27,612.08 344.88,613.41 345.5,613.64 346.3,613.46 347.1,614.8 347.9,615.42 348.7,615.59 349.5,615.75 350.32,617.04 351.14,616.56 351.96,617.34 352.78,617.28 353.6,617.9 354.6,618.22 355.6,619.22 356.6,619.62 357.6,619.73 358.6,620.0 359.62,620.47 360.64,620.8 361.66,620.88 362.68,621.21 363.7,621.6" fill="none" stroke="#000" stroke-width="1.9" stroke-linejoin="round"/>
<path d="M308.1,569.1V623.2" fill="none" stroke="#000" stroke-width="2.1"/><path d="M307.1,623.2H384.9" fill="none" stroke="#000" stroke-width="2.7"/>
<path d="M308.10,623.2v2.2M327.30,623.2v2.2M346.50,623.2v2.2M365.70,623.2v2.2M384.90,623.2v2.2" stroke="#000" stroke-width="1.1" fill="none"/>
<text x="345.0" y="636.7" font-size="10.5" font-weight="bold" text-anchor="middle" fill="#000" textLength="47.4" lengthAdjust="spacingAndGlyphs" stroke="#000" stroke-width="0.3">VCAM-1</text>
</g>
</svg>
</body></html>
